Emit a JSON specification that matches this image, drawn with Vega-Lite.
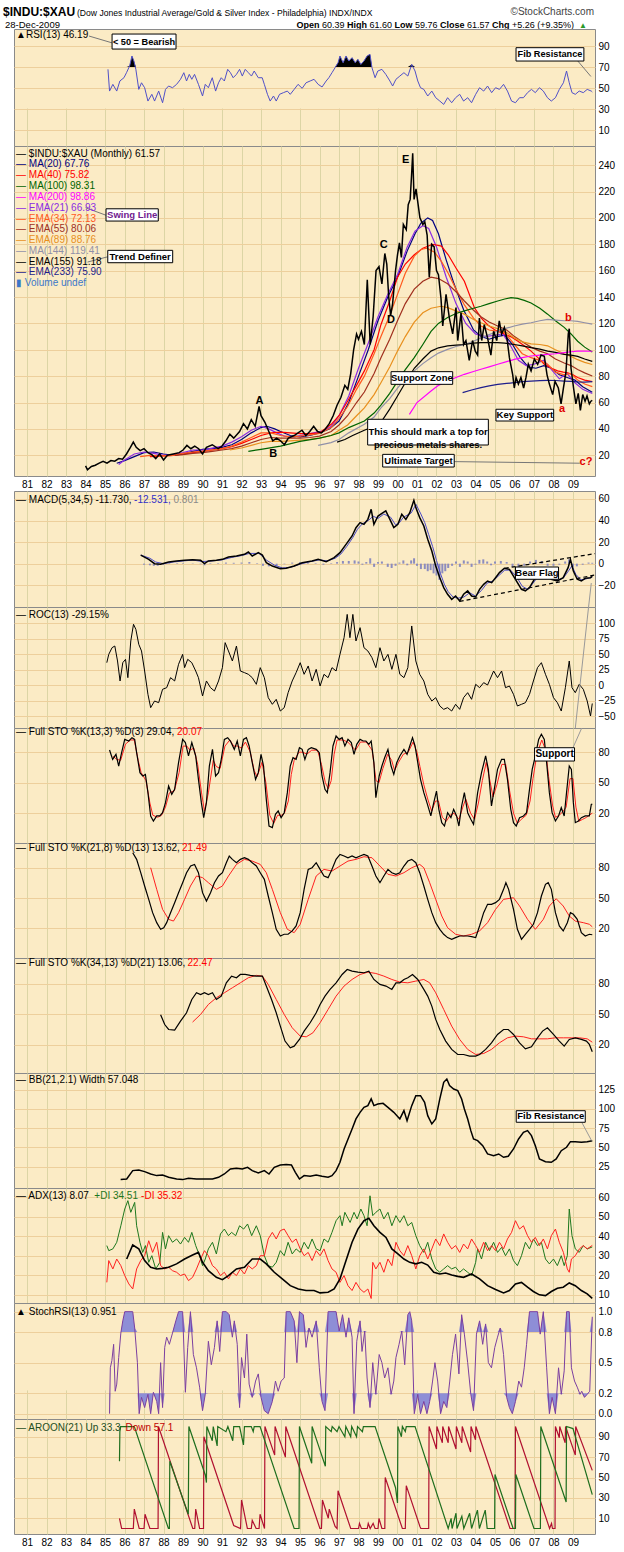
{
"$schema":"https://vega.github.io/schema/vega-lite/v6.json",
"background":"white",
"padding":{"left":2,"top":0,"right":0,"bottom":0},
"spacing":0,
"bounds":"flush",
"config":{
 "view":{"fill":"#FBEBC5","stroke":"#8a8a8a"},
 "axis":{"labelFont":"Liberation Sans","labelFontSize":10,"labelColor":"#000","domain":false,"ticks":false,"gridColor":"#EDCF9C"},
 "text":{"font":"Liberation Sans","fontSize":10,"baseline":"middle","align":"left"}
},
"datasets":{
"price":[{"t":1984.0,"v":12},{"t":1984.1,"v":9},{"t":1984.3,"v":11.5},{"t":1984.5,"v":12.5},{"t":1984.7,"v":14},{"t":1984.9,"v":15.5},{"t":1985.1,"v":14},{"t":1985.3,"v":16},{"t":1985.5,"v":15.5},{"t":1985.7,"v":17.5},{"t":1985.9,"v":17},{"t":1986.1,"v":21},{"t":1986.3,"v":26},{"t":1986.45,"v":30},{"t":1986.6,"v":26},{"t":1986.8,"v":23.5},{"t":1987.0,"v":25},{"t":1987.2,"v":22},{"t":1987.4,"v":20.5},{"t":1987.6,"v":17.5},{"t":1987.8,"v":21},{"t":1988.0,"v":16.5},{"t":1988.2,"v":20},{"t":1988.5,"v":21},{"t":1988.8,"v":22},{"t":1989.0,"v":24},{"t":1989.2,"v":27.5},{"t":1989.4,"v":25},{"t":1989.6,"v":27},{"t":1989.8,"v":25},{"t":1990.0,"v":21},{"t":1990.2,"v":26},{"t":1990.5,"v":28},{"t":1990.8,"v":25},{"t":1991.0,"v":27},{"t":1991.2,"v":31},{"t":1991.4,"v":36},{"t":1991.6,"v":33},{"t":1991.9,"v":38},{"t":1992.1,"v":44},{"t":1992.3,"v":40},{"t":1992.5,"v":47},{"t":1992.7,"v":42},{"t":1992.9,"v":57},{"t":1993.0,"v":50},{"t":1993.2,"v":45},{"t":1993.4,"v":38},{"t":1993.6,"v":31},{"t":1993.8,"v":33},{"t":1994.0,"v":31},{"t":1994.2,"v":28},{"t":1994.4,"v":33},{"t":1994.7,"v":35},{"t":1994.9,"v":37},{"t":1995.1,"v":39},{"t":1995.3,"v":35},{"t":1995.5,"v":38},{"t":1995.7,"v":42},{"t":1995.9,"v":38},{"t":1996.1,"v":37},{"t":1996.3,"v":40},{"t":1996.5,"v":44},{"t":1996.7,"v":50},{"t":1996.9,"v":58},{"t":1997.1,"v":64},{"t":1997.3,"v":73},{"t":1997.45,"v":70},{"t":1997.6,"v":82},{"t":1997.75,"v":100},{"t":1997.9,"v":112},{"t":1998.0,"v":108},{"t":1998.15,"v":114},{"t":1998.3,"v":104},{"t":1998.45,"v":153},{"t":1998.6,"v":104},{"t":1998.75,"v":125},{"t":1998.9,"v":160},{"t":1999.05,"v":163},{"t":1999.2,"v":150},{"t":1999.35,"v":173},{"t":1999.45,"v":165},{"t":1999.55,"v":140},{"t":1999.65,"v":126},{"t":1999.75,"v":135},{"t":1999.9,"v":160},{"t":2000.0,"v":172},{"t":2000.1,"v":181},{"t":2000.2,"v":170},{"t":2000.3,"v":195},{"t":2000.45,"v":191},{"t":2000.55,"v":210},{"t":2000.65,"v":214},{"t":2000.72,"v":232},{"t":2000.78,"v":249},{"t":2000.85,"v":214},{"t":2000.95,"v":222},{"t":2001.05,"v":211},{"t":2001.15,"v":200},{"t":2001.3,"v":195},{"t":2001.4,"v":197},{"t":2001.52,"v":187},{"t":2001.63,"v":155},{"t":2001.75,"v":180},{"t":2001.88,"v":178},{"t":2002.0,"v":160},{"t":2002.1,"v":157},{"t":2002.23,"v":139},{"t":2002.32,"v":118},{"t":2002.49,"v":142},{"t":2002.66,"v":124},{"t":2002.83,"v":112},{"t":2003.0,"v":132},{"t":2003.09,"v":107},{"t":2003.26,"v":128},{"t":2003.39,"v":104},{"t":2003.51,"v":107},{"t":2003.68,"v":92},{"t":2003.85,"v":107},{"t":2003.99,"v":99},{"t":2004.11,"v":96},{"t":2004.2,"v":124},{"t":2004.32,"v":107},{"t":2004.45,"v":119},{"t":2004.62,"v":109},{"t":2004.79,"v":96},{"t":2004.93,"v":114},{"t":2005.09,"v":107},{"t":2005.22,"v":122},{"t":2005.34,"v":112},{"t":2005.48,"v":117},{"t":2005.62,"v":108},{"t":2005.74,"v":94},{"t":2005.91,"v":81},{"t":2005.99,"v":71},{"t":2006.08,"v":79},{"t":2006.2,"v":74},{"t":2006.33,"v":79},{"t":2006.47,"v":71},{"t":2006.59,"v":79},{"t":2006.71,"v":89},{"t":2006.85,"v":84},{"t":2007.02,"v":93},{"t":2007.19,"v":89},{"t":2007.36,"v":96},{"t":2007.53,"v":95},{"t":2007.67,"v":81},{"t":2007.79,"v":74},{"t":2007.96,"v":66},{"t":2008.08,"v":76},{"t":2008.25,"v":71},{"t":2008.39,"v":59},{"t":2008.51,"v":71},{"t":2008.64,"v":83},{"t":2008.76,"v":112},{"t":2008.81,"v":116},{"t":2008.9,"v":86},{"t":2009.03,"v":71},{"t":2009.15,"v":59},{"t":2009.27,"v":67},{"t":2009.38,"v":54},{"t":2009.5,"v":66},{"t":2009.62,"v":61},{"t":2009.72,"v":65},{"t":2009.84,"v":59},{"t":2009.92,"v":61},{"t":2009.99,"v":61.6}],
"ma":[
{"s":"MA(20)","t":1985.6,"v":14},{"s":"MA(20)","t":1986.0,"v":16},{"s":"MA(20)","t":1986.5,"v":19},{"s":"MA(20)","t":1987.0,"v":22},{"s":"MA(20)","t":1987.5,"v":22.5},{"s":"MA(20)","t":1988.0,"v":21},{"s":"MA(20)","t":1988.5,"v":20},{"s":"MA(20)","t":1989.0,"v":21},{"s":"MA(20)","t":1989.5,"v":23},{"s":"MA(20)","t":1990.0,"v":24.5},{"s":"MA(20)","t":1990.5,"v":25},{"s":"MA(20)","t":1991.0,"v":26},{"s":"MA(20)","t":1991.5,"v":28},{"s":"MA(20)","t":1992.0,"v":32},{"s":"MA(20)","t":1992.5,"v":37},{"s":"MA(20)","t":1993.0,"v":41},{"s":"MA(20)","t":1993.3,"v":42},{"s":"MA(20)","t":1993.7,"v":40},{"s":"MA(20)","t":1994.0,"v":38},{"s":"MA(20)","t":1994.5,"v":35},{"s":"MA(20)","t":1995.0,"v":34},{"s":"MA(20)","t":1995.5,"v":35},{"s":"MA(20)","t":1996.0,"v":37},{"s":"MA(20)","t":1996.5,"v":40},{"s":"MA(20)","t":1997.0,"v":46},{"s":"MA(20)","t":1997.5,"v":60},{"s":"MA(20)","t":1998.0,"v":80},{"s":"MA(20)","t":1998.5,"v":100},{"s":"MA(20)","t":1999.0,"v":122},{"s":"MA(20)","t":1999.5,"v":140},{"s":"MA(20)","t":2000.0,"v":155},{"s":"MA(20)","t":2000.5,"v":175},{"s":"MA(20)","t":2000.9,"v":188},{"s":"MA(20)","t":2001.2,"v":196},{"s":"MA(20)","t":2001.55,"v":200},{"s":"MA(20)","t":2001.8,"v":198},{"s":"MA(20)","t":2002.1,"v":188},{"s":"MA(20)","t":2002.5,"v":168},{"s":"MA(20)","t":2002.9,"v":150},{"s":"MA(20)","t":2003.4,"v":130},{"s":"MA(20)","t":2003.9,"v":115},{"s":"MA(20)","t":2004.3,"v":110},{"s":"MA(20)","t":2004.7,"v":108},{"s":"MA(20)","t":2005.1,"v":110},{"s":"MA(20)","t":2005.5,"v":111},{"s":"MA(20)","t":2005.9,"v":104},{"s":"MA(20)","t":2006.3,"v":94},{"s":"MA(20)","t":2006.7,"v":87},{"s":"MA(20)","t":2007.1,"v":86},{"s":"MA(20)","t":2007.5,"v":88},{"s":"MA(20)","t":2007.9,"v":86},{"s":"MA(20)","t":2008.3,"v":81},{"s":"MA(20)","t":2008.7,"v":79},{"s":"MA(20)","t":2009.1,"v":77},{"s":"MA(20)","t":2009.5,"v":72},{"s":"MA(20)","t":2009.99,"v":67.8},
{"s":"EMA(21)","t":1985.7,"v":13},{"s":"EMA(21)","t":1986.0,"v":16.5},{"s":"EMA(21)","t":1986.5,"v":21},{"s":"EMA(21)","t":1987.0,"v":22.5},{"s":"EMA(21)","t":1987.5,"v":21.5},{"s":"EMA(21)","t":1988.0,"v":20},{"s":"EMA(21)","t":1988.5,"v":20.5},{"s":"EMA(21)","t":1989.0,"v":22},{"s":"EMA(21)","t":1989.5,"v":24},{"s":"EMA(21)","t":1990.0,"v":24},{"s":"EMA(21)","t":1990.5,"v":25.5},{"s":"EMA(21)","t":1991.0,"v":27},{"s":"EMA(21)","t":1991.5,"v":30},{"s":"EMA(21)","t":1992.0,"v":34},{"s":"EMA(21)","t":1992.5,"v":39},{"s":"EMA(21)","t":1993.0,"v":42},{"s":"EMA(21)","t":1993.4,"v":40},{"s":"EMA(21)","t":1993.8,"v":37},{"s":"EMA(21)","t":1994.2,"v":34.5},{"s":"EMA(21)","t":1994.7,"v":34},{"s":"EMA(21)","t":1995.2,"v":35.5},{"s":"EMA(21)","t":1995.7,"v":37},{"s":"EMA(21)","t":1996.2,"v":38.5},{"s":"EMA(21)","t":1996.6,"v":42},{"s":"EMA(21)","t":1997.0,"v":50},{"s":"EMA(21)","t":1997.5,"v":65},{"s":"EMA(21)","t":1998.0,"v":86},{"s":"EMA(21)","t":1998.5,"v":105},{"s":"EMA(21)","t":1999.0,"v":125},{"s":"EMA(21)","t":1999.5,"v":142},{"s":"EMA(21)","t":2000.0,"v":157},{"s":"EMA(21)","t":2000.5,"v":178},{"s":"EMA(21)","t":2000.9,"v":190},{"s":"EMA(21)","t":2001.3,"v":194},{"s":"EMA(21)","t":2001.6,"v":192},{"s":"EMA(21)","t":2002.0,"v":178},{"s":"EMA(21)","t":2002.5,"v":155},{"s":"EMA(21)","t":2003.0,"v":135},{"s":"EMA(21)","t":2003.5,"v":120},{"s":"EMA(21)","t":2004.0,"v":112},{"s":"EMA(21)","t":2004.5,"v":110},{"s":"EMA(21)","t":2005.0,"v":111},{"s":"EMA(21)","t":2005.4,"v":112},{"s":"EMA(21)","t":2005.8,"v":103},{"s":"EMA(21)","t":2006.2,"v":92},{"s":"EMA(21)","t":2006.6,"v":88},{"s":"EMA(21)","t":2007.0,"v":89},{"s":"EMA(21)","t":2007.5,"v":92},{"s":"EMA(21)","t":2007.9,"v":85},{"s":"EMA(21)","t":2008.3,"v":78},{"s":"EMA(21)","t":2008.7,"v":82},{"s":"EMA(21)","t":2009.1,"v":75},{"s":"EMA(21)","t":2009.5,"v":70},{"s":"EMA(21)","t":2009.99,"v":66.9},
{"s":"MA(40)","t":1987.3,"v":19},{"s":"MA(40)","t":1988.0,"v":19.5},{"s":"MA(40)","t":1988.5,"v":20},{"s":"MA(40)","t":1989.0,"v":21},{"s":"MA(40)","t":1989.5,"v":22},{"s":"MA(40)","t":1990.0,"v":23},{"s":"MA(40)","t":1990.5,"v":24},{"s":"MA(40)","t":1991.0,"v":25},{"s":"MA(40)","t":1991.5,"v":26.5},{"s":"MA(40)","t":1992.0,"v":29},{"s":"MA(40)","t":1992.5,"v":32},{"s":"MA(40)","t":1993.0,"v":35},{"s":"MA(40)","t":1993.5,"v":37},{"s":"MA(40)","t":1994.0,"v":37.5},{"s":"MA(40)","t":1994.5,"v":37},{"s":"MA(40)","t":1995.0,"v":36.5},{"s":"MA(40)","t":1995.5,"v":36.5},{"s":"MA(40)","t":1996.0,"v":37},{"s":"MA(40)","t":1996.6,"v":43.5},{"s":"MA(40)","t":1997.0,"v":50},{"s":"MA(40)","t":1997.44,"v":61},{"s":"MA(40)","t":1997.9,"v":73},{"s":"MA(40)","t":1998.3,"v":84},{"s":"MA(40)","t":1998.8,"v":100},{"s":"MA(40)","t":1999.15,"v":119},{"s":"MA(40)","t":1999.6,"v":137},{"s":"MA(40)","t":2000.0,"v":155},{"s":"MA(40)","t":2000.4,"v":165},{"s":"MA(40)","t":2000.86,"v":172},{"s":"MA(40)","t":2001.3,"v":177},{"s":"MA(40)","t":2001.8,"v":180},{"s":"MA(40)","t":2002.25,"v":178.6},{"s":"MA(40)","t":2002.6,"v":172},{"s":"MA(40)","t":2003.0,"v":162},{"s":"MA(40)","t":2003.43,"v":152},{"s":"MA(40)","t":2003.94,"v":132},{"s":"MA(40)","t":2004.3,"v":124},{"s":"MA(40)","t":2004.62,"v":119},{"s":"MA(40)","t":2005.0,"v":115},{"s":"MA(40)","t":2005.48,"v":112},{"s":"MA(40)","t":2005.8,"v":110},{"s":"MA(40)","t":2006.16,"v":106.6},{"s":"MA(40)","t":2006.5,"v":103},{"s":"MA(40)","t":2006.85,"v":99},{"s":"MA(40)","t":2007.2,"v":94},{"s":"MA(40)","t":2007.53,"v":89},{"s":"MA(40)","t":2007.9,"v":86},{"s":"MA(40)","t":2008.21,"v":84},{"s":"MA(40)","t":2008.5,"v":83},{"s":"MA(40)","t":2008.73,"v":82.6},{"s":"MA(40)","t":2009.0,"v":81},{"s":"MA(40)","t":2009.24,"v":79},{"s":"MA(40)","t":2009.6,"v":77},{"s":"MA(40)","t":2009.99,"v":75.8},
{"s":"EMA(34)","t":1986.8,"v":19},{"s":"EMA(34)","t":1987.3,"v":20},{"s":"EMA(34)","t":1988.0,"v":19.5},{"s":"EMA(34)","t":1988.5,"v":20},{"s":"EMA(34)","t":1989.0,"v":21.5},{"s":"EMA(34)","t":1989.5,"v":22.5},{"s":"EMA(34)","t":1990.0,"v":23},{"s":"EMA(34)","t":1990.5,"v":24},{"s":"EMA(34)","t":1991.0,"v":25},{"s":"EMA(34)","t":1991.5,"v":27},{"s":"EMA(34)","t":1992.0,"v":30},{"s":"EMA(34)","t":1992.5,"v":33.5},{"s":"EMA(34)","t":1993.0,"v":37},{"s":"EMA(34)","t":1993.5,"v":37},{"s":"EMA(34)","t":1994.0,"v":35},{"s":"EMA(34)","t":1994.5,"v":34},{"s":"EMA(34)","t":1995.0,"v":34.5},{"s":"EMA(34)","t":1995.5,"v":35.5},{"s":"EMA(34)","t":1996.0,"v":36.5},{"s":"EMA(34)","t":1996.6,"v":41},{"s":"EMA(34)","t":1997.0,"v":48},{"s":"EMA(34)","t":1997.44,"v":57},{"s":"EMA(34)","t":1997.9,"v":70},{"s":"EMA(34)","t":1998.3,"v":80},{"s":"EMA(34)","t":1998.8,"v":97},{"s":"EMA(34)","t":1999.15,"v":110},{"s":"EMA(34)","t":1999.6,"v":126},{"s":"EMA(34)","t":2000.0,"v":142},{"s":"EMA(34)","t":2000.4,"v":158},{"s":"EMA(34)","t":2000.86,"v":171},{"s":"EMA(34)","t":2001.2,"v":176},{"s":"EMA(34)","t":2001.5,"v":177},{"s":"EMA(34)","t":2001.9,"v":174},{"s":"EMA(34)","t":2002.25,"v":167},{"s":"EMA(34)","t":2002.6,"v":158},{"s":"EMA(34)","t":2003.0,"v":146},{"s":"EMA(34)","t":2003.43,"v":134},{"s":"EMA(34)","t":2003.9,"v":124},{"s":"EMA(34)","t":2004.28,"v":118},{"s":"EMA(34)","t":2004.7,"v":115},{"s":"EMA(34)","t":2005.14,"v":114},{"s":"EMA(34)","t":2005.5,"v":113},{"s":"EMA(34)","t":2006.0,"v":104},{"s":"EMA(34)","t":2006.4,"v":97},{"s":"EMA(34)","t":2006.85,"v":94},{"s":"EMA(34)","t":2007.3,"v":92},{"s":"EMA(34)","t":2007.7,"v":89},{"s":"EMA(34)","t":2008.1,"v":83},{"s":"EMA(34)","t":2008.55,"v":81},{"s":"EMA(34)","t":2008.9,"v":82},{"s":"EMA(34)","t":2009.24,"v":77},{"s":"EMA(34)","t":2009.6,"v":74},{"s":"EMA(34)","t":2009.99,"v":72.1},
{"s":"EMA(55)","t":1988.6,"v":20},{"s":"EMA(55)","t":1989.0,"v":20.5},{"s":"EMA(55)","t":1989.5,"v":21.5},{"s":"EMA(55)","t":1990.0,"v":22},{"s":"EMA(55)","t":1990.5,"v":23},{"s":"EMA(55)","t":1991.0,"v":24},{"s":"EMA(55)","t":1991.5,"v":25},{"s":"EMA(55)","t":1992.0,"v":27},{"s":"EMA(55)","t":1992.5,"v":29.5},{"s":"EMA(55)","t":1993.0,"v":32},{"s":"EMA(55)","t":1993.5,"v":33.5},{"s":"EMA(55)","t":1994.0,"v":33},{"s":"EMA(55)","t":1995.0,"v":33},{"s":"EMA(55)","t":1995.5,"v":33.5},{"s":"EMA(55)","t":1996.0,"v":34.5},{"s":"EMA(55)","t":1996.6,"v":38},{"s":"EMA(55)","t":1997.0,"v":43},{"s":"EMA(55)","t":1997.44,"v":50},{"s":"EMA(55)","t":1997.9,"v":60},{"s":"EMA(55)","t":1998.3,"v":68},{"s":"EMA(55)","t":1998.8,"v":82},{"s":"EMA(55)","t":1999.15,"v":94},{"s":"EMA(55)","t":1999.6,"v":108},{"s":"EMA(55)","t":2000.0,"v":122},{"s":"EMA(55)","t":2000.4,"v":135},{"s":"EMA(55)","t":2000.86,"v":146},{"s":"EMA(55)","t":2001.3,"v":152},{"s":"EMA(55)","t":2001.72,"v":155},{"s":"EMA(55)","t":2002.1,"v":154},{"s":"EMA(55)","t":2002.57,"v":150},{"s":"EMA(55)","t":2003.0,"v":144},{"s":"EMA(55)","t":2003.43,"v":137},{"s":"EMA(55)","t":2003.9,"v":130},{"s":"EMA(55)","t":2004.28,"v":125},{"s":"EMA(55)","t":2004.7,"v":121},{"s":"EMA(55)","t":2005.14,"v":118},{"s":"EMA(55)","t":2005.6,"v":115},{"s":"EMA(55)","t":2006.0,"v":110},{"s":"EMA(55)","t":2006.4,"v":106},{"s":"EMA(55)","t":2006.85,"v":102},{"s":"EMA(55)","t":2007.3,"v":99},{"s":"EMA(55)","t":2007.7,"v":97},{"s":"EMA(55)","t":2008.1,"v":93},{"s":"EMA(55)","t":2008.55,"v":90},{"s":"EMA(55)","t":2008.9,"v":88},{"s":"EMA(55)","t":2009.24,"v":85},{"s":"EMA(55)","t":2009.6,"v":82.5},{"s":"EMA(55)","t":2009.99,"v":80.1},
{"s":"EMA(89)","t":1991.4,"v":24},{"s":"EMA(89)","t":1992.0,"v":25.5},{"s":"EMA(89)","t":1992.5,"v":27.5},{"s":"EMA(89)","t":1993.0,"v":29.5},{"s":"EMA(89)","t":1993.5,"v":30.5},{"s":"EMA(89)","t":1994.0,"v":30.5},{"s":"EMA(89)","t":1994.5,"v":31},{"s":"EMA(89)","t":1995.0,"v":31.5},{"s":"EMA(89)","t":1995.5,"v":32},{"s":"EMA(89)","t":1996.0,"v":33},{"s":"EMA(89)","t":1996.6,"v":35},{"s":"EMA(89)","t":1997.0,"v":39},{"s":"EMA(89)","t":1997.44,"v":43},{"s":"EMA(89)","t":1997.9,"v":50},{"s":"EMA(89)","t":1998.3,"v":56},{"s":"EMA(89)","t":1998.8,"v":66},{"s":"EMA(89)","t":1999.15,"v":75},{"s":"EMA(89)","t":1999.6,"v":87},{"s":"EMA(89)","t":2000.0,"v":99},{"s":"EMA(89)","t":2000.4,"v":110},{"s":"EMA(89)","t":2000.86,"v":121},{"s":"EMA(89)","t":2001.3,"v":128},{"s":"EMA(89)","t":2001.72,"v":131.5},{"s":"EMA(89)","t":2002.23,"v":133},{"s":"EMA(89)","t":2002.57,"v":132},{"s":"EMA(89)","t":2003.0,"v":129.5},{"s":"EMA(89)","t":2003.43,"v":127},{"s":"EMA(89)","t":2003.9,"v":123},{"s":"EMA(89)","t":2004.28,"v":120.5},{"s":"EMA(89)","t":2004.7,"v":118},{"s":"EMA(89)","t":2005.14,"v":116},{"s":"EMA(89)","t":2005.6,"v":113},{"s":"EMA(89)","t":2005.99,"v":109},{"s":"EMA(89)","t":2006.4,"v":106},{"s":"EMA(89)","t":2006.85,"v":104.5},{"s":"EMA(89)","t":2007.3,"v":104},{"s":"EMA(89)","t":2007.7,"v":103},{"s":"EMA(89)","t":2008.1,"v":100},{"s":"EMA(89)","t":2008.55,"v":97},{"s":"EMA(89)","t":2008.9,"v":95},{"s":"EMA(89)","t":2009.24,"v":92.5},{"s":"EMA(89)","t":2009.6,"v":90.5},{"s":"EMA(89)","t":2009.99,"v":88.8},
{"s":"MA(100)","t":1992.35,"v":23},{"s":"MA(100)","t":1993.0,"v":24.5},{"s":"MA(100)","t":1994.0,"v":27},{"s":"MA(100)","t":1995.0,"v":30.5},{"s":"MA(100)","t":1996.0,"v":33},{"s":"MA(100)","t":1996.59,"v":35},{"s":"MA(100)","t":1997.0,"v":37},{"s":"MA(100)","t":1997.5,"v":41},{"s":"MA(100)","t":1998.3,"v":46},{"s":"MA(100)","t":1998.8,"v":52},{"s":"MA(100)","t":1999.15,"v":58},{"s":"MA(100)","t":1999.6,"v":67},{"s":"MA(100)","t":2000.0,"v":76},{"s":"MA(100)","t":2000.4,"v":85},{"s":"MA(100)","t":2000.86,"v":94},{"s":"MA(100)","t":2001.3,"v":104},{"s":"MA(100)","t":2001.72,"v":114},{"s":"MA(100)","t":2002.1,"v":120},{"s":"MA(100)","t":2002.57,"v":124.5},{"s":"MA(100)","t":2003.0,"v":127.5},{"s":"MA(100)","t":2003.43,"v":129.5},{"s":"MA(100)","t":2003.9,"v":131.5},{"s":"MA(100)","t":2004.28,"v":133},{"s":"MA(100)","t":2004.7,"v":135},{"s":"MA(100)","t":2005.14,"v":137},{"s":"MA(100)","t":2005.5,"v":138.5},{"s":"MA(100)","t":2005.82,"v":139.5},{"s":"MA(100)","t":2006.16,"v":139},{"s":"MA(100)","t":2006.5,"v":137.5},{"s":"MA(100)","t":2006.85,"v":135.5},{"s":"MA(100)","t":2007.3,"v":131.5},{"s":"MA(100)","t":2007.7,"v":127},{"s":"MA(100)","t":2008.1,"v":122},{"s":"MA(100)","t":2008.55,"v":117},{"s":"MA(100)","t":2008.9,"v":112},{"s":"MA(100)","t":2009.24,"v":106.5},{"s":"MA(100)","t":2009.6,"v":102},{"s":"MA(100)","t":2009.99,"v":98.3},
{"s":"MA(144)","t":1995.93,"v":27.5},{"s":"MA(144)","t":1996.59,"v":29.6},{"s":"MA(144)","t":1997.0,"v":32},{"s":"MA(144)","t":1997.5,"v":37},{"s":"MA(144)","t":1998.3,"v":43.5},{"s":"MA(144)","t":1998.8,"v":49},{"s":"MA(144)","t":1999.15,"v":56},{"s":"MA(144)","t":1999.6,"v":63},{"s":"MA(144)","t":2000.0,"v":71},{"s":"MA(144)","t":2000.4,"v":78},{"s":"MA(144)","t":2000.86,"v":84},{"s":"MA(144)","t":2001.3,"v":89.5},{"s":"MA(144)","t":2001.72,"v":94},{"s":"MA(144)","t":2002.1,"v":97.5},{"s":"MA(144)","t":2002.57,"v":100.3},{"s":"MA(144)","t":2003.0,"v":102.5},{"s":"MA(144)","t":2003.43,"v":104},{"s":"MA(144)","t":2003.9,"v":106.5},{"s":"MA(144)","t":2004.28,"v":109},{"s":"MA(144)","t":2004.7,"v":111.5},{"s":"MA(144)","t":2005.14,"v":114},{"s":"MA(144)","t":2005.5,"v":116},{"s":"MA(144)","t":2005.99,"v":118},{"s":"MA(144)","t":2006.4,"v":119.5},{"s":"MA(144)","t":2006.85,"v":120.5},{"s":"MA(144)","t":2007.3,"v":122},{"s":"MA(144)","t":2007.7,"v":123},{"s":"MA(144)","t":2008.1,"v":122.5},{"s":"MA(144)","t":2008.55,"v":122},{"s":"MA(144)","t":2008.9,"v":122},{"s":"MA(144)","t":2009.24,"v":121.5},{"s":"MA(144)","t":2009.6,"v":120.5},{"s":"MA(144)","t":2009.99,"v":119.4},
{"s":"EMA(155)","t":1996.9,"v":30},{"s":"EMA(155)","t":1997.3,"v":32},{"s":"EMA(155)","t":1997.7,"v":35},{"s":"EMA(155)","t":1998.3,"v":39},{"s":"EMA(155)","t":1998.8,"v":42},{"s":"EMA(155)","t":1999.15,"v":45},{"s":"EMA(155)","t":1999.6,"v":55},{"s":"EMA(155)","t":2000.0,"v":65},{"s":"EMA(155)","t":2000.4,"v":75},{"s":"EMA(155)","t":2000.86,"v":86},{"s":"EMA(155)","t":2001.3,"v":93},{"s":"EMA(155)","t":2001.72,"v":99},{"s":"EMA(155)","t":2002.1,"v":101.5},{"s":"EMA(155)","t":2002.57,"v":103},{"s":"EMA(155)","t":2003.0,"v":103.5},{"s":"EMA(155)","t":2003.43,"v":104},{"s":"EMA(155)","t":2003.9,"v":105},{"s":"EMA(155)","t":2004.28,"v":105.4},{"s":"EMA(155)","t":2004.7,"v":105.5},{"s":"EMA(155)","t":2005.14,"v":105.4},{"s":"EMA(155)","t":2005.5,"v":105},{"s":"EMA(155)","t":2005.99,"v":104},{"s":"EMA(155)","t":2006.4,"v":103},{"s":"EMA(155)","t":2006.85,"v":101.6},{"s":"EMA(155)","t":2007.3,"v":100.5},{"s":"EMA(155)","t":2007.7,"v":99},{"s":"EMA(155)","t":2008.1,"v":98},{"s":"EMA(155)","t":2008.55,"v":96.5},{"s":"EMA(155)","t":2008.9,"v":96},{"s":"EMA(155)","t":2009.24,"v":95},{"s":"EMA(155)","t":2009.6,"v":93},{"s":"EMA(155)","t":2009.99,"v":91.2},
{"s":"MA(200)","t":2000.61,"v":51},{"s":"MA(200)","t":2001.0,"v":60},{"s":"MA(200)","t":2001.72,"v":68.7},{"s":"MA(200)","t":2002.1,"v":73},{"s":"MA(200)","t":2002.57,"v":76.3},{"s":"MA(200)","t":2003.0,"v":79},{"s":"MA(200)","t":2003.43,"v":81.4},{"s":"MA(200)","t":2003.9,"v":83.5},{"s":"MA(200)","t":2004.28,"v":85.2},{"s":"MA(200)","t":2004.7,"v":87},{"s":"MA(200)","t":2005.14,"v":89},{"s":"MA(200)","t":2005.6,"v":91},{"s":"MA(200)","t":2005.99,"v":92.7},{"s":"MA(200)","t":2006.4,"v":94},{"s":"MA(200)","t":2006.85,"v":95.3},{"s":"MA(200)","t":2007.3,"v":96},{"s":"MA(200)","t":2007.7,"v":96.5},{"s":"MA(200)","t":2008.1,"v":97},{"s":"MA(200)","t":2008.55,"v":97.8},{"s":"MA(200)","t":2008.9,"v":98.5},{"s":"MA(200)","t":2009.24,"v":99},{"s":"MA(200)","t":2009.6,"v":99},{"s":"MA(200)","t":2009.99,"v":98.9},
{"s":"EMA(233)","t":2003.34,"v":67.5},{"s":"EMA(233)","t":2003.8,"v":69.5},{"s":"EMA(233)","t":2004.28,"v":71.3},{"s":"EMA(233)","t":2004.7,"v":72.6},{"s":"EMA(233)","t":2005.14,"v":73.8},{"s":"EMA(233)","t":2005.6,"v":74.5},{"s":"EMA(233)","t":2005.99,"v":75.1},{"s":"EMA(233)","t":2006.4,"v":75.8},{"s":"EMA(233)","t":2006.85,"v":76.3},{"s":"EMA(233)","t":2007.3,"v":76.6},{"s":"EMA(233)","t":2007.7,"v":76.8},{"s":"EMA(233)","t":2008.1,"v":76.7},{"s":"EMA(233)","t":2008.55,"v":76.3},{"s":"EMA(233)","t":2008.9,"v":76},{"s":"EMA(233)","t":2009.24,"v":75.6},{"s":"EMA(233)","t":2009.6,"v":75.5},{"s":"EMA(233)","t":2009.99,"v":75.9}],
"rsi":[{"t":1985.15,"v":67.8},{"t":1985.23,"v":47.1},{"t":1985.4,"v":53.5},{"t":1985.6,"v":47.1},{"t":1985.76,"v":56.7},{"t":1985.97,"v":59.8},{"t":1986.1,"v":64.6},{"t":1986.26,"v":71},{"t":1986.38,"v":80.5},{"t":1986.48,"v":75.7},{"t":1986.58,"v":67.8},{"t":1986.73,"v":48.7},{"t":1986.87,"v":55},{"t":1987.03,"v":50.3},{"t":1987.2,"v":37.6},{"t":1987.4,"v":44},{"t":1987.54,"v":37.6},{"t":1987.75,"v":47.1},{"t":1987.95,"v":36},{"t":1988.1,"v":48.7},{"t":1988.26,"v":51.9},{"t":1988.46,"v":50.3},{"t":1988.67,"v":53.5},{"t":1988.87,"v":58.3},{"t":1989.04,"v":64.6},{"t":1989.18,"v":56.7},{"t":1989.32,"v":63},{"t":1989.45,"v":58.3},{"t":1989.59,"v":63},{"t":1989.79,"v":53.5},{"t":1990.0,"v":42.4},{"t":1990.14,"v":53.5},{"t":1990.3,"v":50.3},{"t":1990.5,"v":59.8},{"t":1990.67,"v":47.1},{"t":1990.82,"v":55},{"t":1990.96,"v":59.8},{"t":1991.12,"v":56.7},{"t":1991.29,"v":67.8},{"t":1991.43,"v":64.6},{"t":1991.57,"v":59.8},{"t":1991.74,"v":63},{"t":1991.9,"v":67.8},{"t":1992.04,"v":61.4},{"t":1992.19,"v":67.8},{"t":1992.35,"v":64.6},{"t":1992.51,"v":61.4},{"t":1992.65,"v":66.2},{"t":1992.86,"v":59.8},{"t":1993.06,"v":59.8},{"t":1993.17,"v":53.5},{"t":1993.33,"v":44},{"t":1993.47,"v":37.6},{"t":1993.64,"v":42.4},{"t":1993.78,"v":37.6},{"t":1993.95,"v":44},{"t":1994.15,"v":45.6},{"t":1994.35,"v":47.1},{"t":1994.5,"v":44},{"t":1994.7,"v":48.7},{"t":1994.9,"v":53.5},{"t":1995.11,"v":49.7},{"t":1995.31,"v":55},{"t":1995.52,"v":56.7},{"t":1995.72,"v":58.3},{"t":1995.93,"v":53.5},{"t":1996.13,"v":51},{"t":1996.34,"v":56.7},{"t":1996.48,"v":59.8},{"t":1996.64,"v":64.6},{"t":1996.8,"v":69.4},{"t":1996.95,"v":74.1},{"t":1997.05,"v":80.5},{"t":1997.21,"v":74.1},{"t":1997.36,"v":80.5},{"t":1997.5,"v":75.7},{"t":1997.67,"v":78.9},{"t":1997.83,"v":74.1},{"t":1997.97,"v":77.3},{"t":1998.12,"v":72.5},{"t":1998.28,"v":75.7},{"t":1998.44,"v":80.5},{"t":1998.59,"v":82.1},{"t":1998.69,"v":69.4},{"t":1998.85,"v":59.8},{"t":1998.99,"v":66.2},{"t":1999.2,"v":67.8},{"t":1999.4,"v":63},{"t":1999.61,"v":56.7},{"t":1999.75,"v":51.9},{"t":1999.92,"v":58.3},{"t":2000.12,"v":61.4},{"t":2000.33,"v":64.6},{"t":2000.53,"v":61.4},{"t":2000.73,"v":72.5},{"t":2000.9,"v":66.2},{"t":2001.04,"v":56.7},{"t":2001.18,"v":50.3},{"t":2001.35,"v":48.7},{"t":2001.55,"v":42.4},{"t":2001.76,"v":47.1},{"t":2001.96,"v":40.8},{"t":2002.17,"v":37.6},{"t":2002.37,"v":34.4},{"t":2002.57,"v":40.8},{"t":2002.78,"v":36},{"t":2002.98,"v":40.8},{"t":2003.19,"v":44},{"t":2003.39,"v":37.6},{"t":2003.6,"v":40.8},{"t":2003.8,"v":36},{"t":2004.01,"v":44},{"t":2004.21,"v":50.3},{"t":2004.42,"v":47.1},{"t":2004.62,"v":51.9},{"t":2004.83,"v":45.6},{"t":2005.03,"v":50.3},{"t":2005.23,"v":48.7},{"t":2005.44,"v":53.5},{"t":2005.64,"v":47.1},{"t":2005.85,"v":37.6},{"t":2006.05,"v":36},{"t":2006.26,"v":40.8},{"t":2006.46,"v":40.8},{"t":2006.67,"v":45.6},{"t":2006.87,"v":48.7},{"t":2007.07,"v":45.6},{"t":2007.28,"v":50.3},{"t":2007.48,"v":47.1},{"t":2007.69,"v":40.8},{"t":2007.89,"v":37.6},{"t":2008.1,"v":40.8},{"t":2008.3,"v":48.7},{"t":2008.51,"v":55},{"t":2008.67,"v":66.2},{"t":2008.81,"v":55},{"t":2008.95,"v":45.6},{"t":2009.12,"v":44},{"t":2009.32,"v":47.1},{"t":2009.53,"v":45.6},{"t":2009.73,"v":48.7},{"t":2009.94,"v":47.1},{"t":2009.99,"v":46.2}],
"macd":[{"t":1986.83,"v":8},{"t":1987.24,"v":4},{"t":1987.54,"v":0},{"t":1987.85,"v":-0.6},{"t":1988.26,"v":1.6},{"t":1988.67,"v":2.5},{"t":1989.08,"v":3.1},{"t":1989.49,"v":3.7},{"t":1989.9,"v":3.1},{"t":1990.1,"v":0},{"t":1990.3,"v":2.5},{"t":1990.71,"v":3.1},{"t":1991.02,"v":4},{"t":1991.33,"v":6.2},{"t":1991.74,"v":7.1},{"t":1992.15,"v":8.7},{"t":1992.35,"v":10.8},{"t":1992.55,"v":7.1},{"t":1992.86,"v":10.2},{"t":1993.07,"v":8},{"t":1993.27,"v":0.9},{"t":1993.58,"v":-2.2},{"t":1993.99,"v":-4.6},{"t":1994.29,"v":-4.3},{"t":1994.7,"v":-2.2},{"t":1995.11,"v":0.9},{"t":1995.62,"v":2.5},{"t":1995.93,"v":4},{"t":1996.34,"v":1.9},{"t":1996.75,"v":5.6},{"t":1997.05,"v":10.2},{"t":1997.36,"v":17.9},{"t":1997.67,"v":25.7},{"t":1997.87,"v":33.4},{"t":1998.08,"v":38.1},{"t":1998.28,"v":36.5},{"t":1998.48,"v":41.1},{"t":1998.65,"v":50.4},{"t":1998.79,"v":36.5},{"t":1999.0,"v":44.2},{"t":1999.26,"v":47.3},{"t":1999.4,"v":48.9},{"t":1999.61,"v":41.1},{"t":1999.81,"v":33.4},{"t":2000.02,"v":36.5},{"t":2000.22,"v":45.8},{"t":2000.43,"v":41.1},{"t":2000.63,"v":47.3},{"t":2000.84,"v":58.8},{"t":2000.94,"v":52},{"t":2001.14,"v":42.7},{"t":2001.35,"v":35},{"t":2001.55,"v":22.6},{"t":2001.76,"v":11.8},{"t":2001.96,"v":-2.2},{"t":2002.17,"v":-13},{"t":2002.37,"v":-22.2},{"t":2002.57,"v":-28.4},{"t":2002.78,"v":-33.1},{"t":2002.98,"v":-30},{"t":2003.19,"v":-34.6},{"t":2003.39,"v":-28.4},{"t":2003.6,"v":-25.3},{"t":2003.8,"v":-30},{"t":2004.01,"v":-30.9},{"t":2004.21,"v":-23.8},{"t":2004.42,"v":-19.2},{"t":2004.62,"v":-16.1},{"t":2004.83,"v":-17.6},{"t":2005.03,"v":-13},{"t":2005.23,"v":-8.3},{"t":2005.48,"v":-4.3},{"t":2005.74,"v":-5.3},{"t":2006.05,"v":-14.5},{"t":2006.36,"v":-23.8},{"t":2006.56,"v":-25.3},{"t":2006.77,"v":-22.2},{"t":2007.07,"v":-13},{"t":2007.28,"v":-8.3},{"t":2007.48,"v":-5.3},{"t":2007.69,"v":-9.9},{"t":2007.89,"v":-14.5},{"t":2008.2,"v":-16.1},{"t":2008.5,"v":-13},{"t":2008.75,"v":-3.7},{"t":2008.87,"v":4},{"t":2009.02,"v":-6.8},{"t":2009.22,"v":-14.5},{"t":2009.43,"v":-16.1},{"t":2009.63,"v":-13.6},{"t":2009.9,"v":-13},{"t":2009.99,"v":-11.7}],
"macdsig":[{"t":1986.83,"v":8},{"t":1987.3,"v":5},{"t":1987.6,"v":1.5},{"t":1988.0,"v":0},{"t":1988.5,"v":1.5},{"t":1989.0,"v":2.5},{"t":1989.5,"v":3.3},{"t":1990.0,"v":2},{"t":1990.5,"v":2.5},{"t":1991.0,"v":3.5},{"t":1991.5,"v":5.8},{"t":1992.0,"v":7.5},{"t":1992.4,"v":9.5},{"t":1992.9,"v":9.5},{"t":1993.3,"v":3},{"t":1993.7,"v":-1.5},{"t":1994.1,"v":-4},{"t":1994.5,"v":-3.5},{"t":1995.0,"v":-0.5},{"t":1995.5,"v":1.8},{"t":1996.0,"v":3.5},{"t":1996.4,"v":2.5},{"t":1996.8,"v":5},{"t":1997.1,"v":9},{"t":1997.4,"v":16},{"t":1997.7,"v":24},{"t":1997.95,"v":32},{"t":1998.2,"v":37},{"t":1998.5,"v":40},{"t":1998.75,"v":44},{"t":1999.0,"v":42},{"t":1999.3,"v":46},{"t":1999.65,"v":43},{"t":1999.9,"v":36},{"t":2000.1,"v":38},{"t":2000.3,"v":43},{"t":2000.7,"v":47},{"t":2000.95,"v":55},{"t":2001.2,"v":46},{"t":2001.4,"v":38},{"t":2001.6,"v":27},{"t":2001.8,"v":16},{"t":2002.0,"v":3},{"t":2002.2,"v":-9},{"t":2002.4,"v":-19},{"t":2002.6,"v":-26},{"t":2002.85,"v":-31},{"t":2003.1,"v":-32},{"t":2003.4,"v":-31},{"t":2003.7,"v":-27},{"t":2004.0,"v":-30},{"t":2004.3,"v":-25},{"t":2004.6,"v":-18},{"t":2004.9,"v":-16},{"t":2005.2,"v":-11},{"t":2005.5,"v":-6},{"t":2005.8,"v":-6},{"t":2006.1,"v":-12},{"t":2006.4,"v":-21},{"t":2006.7,"v":-24},{"t":2007.0,"v":-17},{"t":2007.3,"v":-10},{"t":2007.6,"v":-7},{"t":2007.9,"v":-12},{"t":2008.2,"v":-15},{"t":2008.5,"v":-13.5},{"t":2008.8,"v":-6},{"t":2008.95,"v":-2},{"t":2009.15,"v":-10},{"t":2009.4,"v":-15},{"t":2009.7,"v":-14},{"t":2009.99,"v":-12.5}],
"hist":[{"t":1987.0,"v":-1},{"t":1987.3,"v":-1.5},{"t":1987.5,"v":-2},{"t":1987.7,"v":-2},{"t":1988.0,"v":-1},{"t":1988.3,"v":0.5},{"t":1988.7,"v":0.5},{"t":1989.0,"v":0.5},{"t":1989.5,"v":0.3},{"t":1989.9,"v":-0.5},{"t":1990.1,"v":-1.5},{"t":1990.4,"v":0.5},{"t":1990.8,"v":0.5},{"t":1991.2,"v":1},{"t":1991.6,"v":0.8},{"t":1992.0,"v":1},{"t":1992.4,"v":1.5},{"t":1992.8,"v":0.5},{"t":1993.1,"v":-2},{"t":1993.4,"v":-2.5},{"t":1993.8,"v":-2},{"t":1994.2,"v":-0.5},{"t":1994.6,"v":1},{"t":1995.0,"v":1.5},{"t":1995.4,"v":0.8},{"t":1995.8,"v":0.5},{"t":1996.2,"v":-1},{"t":1996.6,"v":0.5},{"t":1996.9,"v":1.5},{"t":1997.2,"v":2.5},{"t":1997.5,"v":2.5},{"t":1997.8,"v":3},{"t":1998.0,"v":2},{"t":1998.2,"v":-1},{"t":1998.4,"v":1.5},{"t":1998.6,"v":5},{"t":1998.8,"v":-3},{"t":1999.0,"v":1.5},{"t":1999.2,"v":2},{"t":1999.5,"v":-3},{"t":1999.7,"v":-4},{"t":1999.9,"v":-2},{"t":2000.1,"v":1},{"t":2000.3,"v":3},{"t":2000.5,"v":-1.5},{"t":2000.7,"v":3},{"t":2000.85,"v":5},{"t":2001.0,"v":-2},{"t":2001.2,"v":-5},{"t":2001.4,"v":-5},{"t":2001.55,"v":-7},{"t":2001.7,"v":-6},{"t":2001.85,"v":-9},{"t":2002.0,"v":-11},{"t":2002.15,"v":-15},{"t":2002.3,"v":-9},{"t":2002.45,"v":-7},{"t":2002.6,"v":-4},{"t":2002.8,"v":-2},{"t":2003.0,"v":2},{"t":2003.2,"v":-3},{"t":2003.4,"v":3},{"t":2003.6,"v":2},{"t":2003.8,"v":-3},{"t":2004.0,"v":-1},{"t":2004.2,"v":3.5},{"t":2004.4,"v":4},{"t":2004.6,"v":2},{"t":2004.8,"v":-1.5},{"t":2005.0,"v":2},{"t":2005.3,"v":2.5},{"t":2005.6,"v":1.5},{"t":2005.9,"v":-3},{"t":2006.2,"v":-3},{"t":2006.5,"v":-2},{"t":2006.8,"v":2},{"t":2007.1,"v":3.5},{"t":2007.4,"v":2.5},{"t":2007.7,"v":-2},{"t":2008.0,"v":-2},{"t":2008.3,"v":-1},{"t":2008.6,"v":2},{"t":2008.8,"v":4},{"t":2009.0,"v":-3},{"t":2009.2,"v":-2.5},{"t":2009.5,"v":-1},{"t":2009.8,"v":1},{"t":2009.99,"v":0.8}],
"roc":[{"t":1985.09,"v":36.4},{"t":1985.19,"v":49.8},{"t":1985.36,"v":60.5},{"t":1985.5,"v":63.2},{"t":1985.64,"v":39.1},{"t":1985.77,"v":7},{"t":1985.91,"v":36.4},{"t":1986.05,"v":41.8},{"t":1986.17,"v":12.3},{"t":1986.32,"v":71.3},{"t":1986.46,"v":98.1},{"t":1986.58,"v":90},{"t":1986.73,"v":65.9},{"t":1986.87,"v":55.2},{"t":1987.03,"v":23},{"t":1987.2,"v":-14.5},{"t":1987.34,"v":-35.9},{"t":1987.54,"v":-25.2},{"t":1987.75,"v":-27.9},{"t":1987.95,"v":-6.4},{"t":1988.16,"v":-3.8},{"t":1988.36,"v":12.3},{"t":1988.57,"v":7},{"t":1988.77,"v":33.8},{"t":1988.98,"v":49.8},{"t":1989.08,"v":28.4},{"t":1989.24,"v":41.8},{"t":1989.45,"v":36.4},{"t":1989.65,"v":23},{"t":1989.79,"v":12.3},{"t":1990.0,"v":-17.1},{"t":1990.2,"v":7},{"t":1990.41,"v":-3.8},{"t":1990.61,"v":-9.1},{"t":1990.82,"v":7},{"t":1991.02,"v":28.4},{"t":1991.16,"v":68.6},{"t":1991.33,"v":55.2},{"t":1991.53,"v":39.1},{"t":1991.74,"v":63.2},{"t":1991.94,"v":23},{"t":1992.15,"v":20.4},{"t":1992.35,"v":17.7},{"t":1992.55,"v":12.3},{"t":1992.76,"v":1.6},{"t":1992.96,"v":28.4},{"t":1993.17,"v":12.3},{"t":1993.37,"v":-19.8},{"t":1993.58,"v":-30.5},{"t":1993.78,"v":-22.5},{"t":1993.99,"v":-41.3},{"t":1994.19,"v":-35.9},{"t":1994.39,"v":-11.8},{"t":1994.6,"v":7},{"t":1994.8,"v":20.4},{"t":1995.01,"v":36.4},{"t":1995.21,"v":17.7},{"t":1995.42,"v":31.1},{"t":1995.62,"v":7},{"t":1995.83,"v":25.7},{"t":1996.03,"v":-1.1},{"t":1996.23,"v":17.7},{"t":1996.44,"v":12.3},{"t":1996.64,"v":28.4},{"t":1996.85,"v":23},{"t":1997.05,"v":49.8},{"t":1997.26,"v":76.6},{"t":1997.42,"v":114},{"t":1997.56,"v":76.6},{"t":1997.71,"v":114},{"t":1997.87,"v":71.3},{"t":1998.08,"v":92.7},{"t":1998.28,"v":60.5},{"t":1998.48,"v":55.2},{"t":1998.69,"v":44.5},{"t":1998.89,"v":28.4},{"t":1999.1,"v":60.5},{"t":1999.3,"v":39.1},{"t":1999.51,"v":49.8},{"t":1999.71,"v":25.7},{"t":1999.92,"v":49.8},{"t":2000.12,"v":17.7},{"t":2000.33,"v":12.3},{"t":2000.53,"v":28.4},{"t":2000.73,"v":95.4},{"t":2000.94,"v":39.1},{"t":2001.14,"v":17.7},{"t":2001.35,"v":7},{"t":2001.55,"v":-14.5},{"t":2001.76,"v":-25.2},{"t":2001.96,"v":-19.8},{"t":2002.17,"v":-33.2},{"t":2002.37,"v":-38.6},{"t":2002.57,"v":-35.9},{"t":2002.78,"v":-41.3},{"t":2002.98,"v":-30.5},{"t":2003.19,"v":-38.6},{"t":2003.39,"v":-19.8},{"t":2003.6,"v":-11.8},{"t":2003.8,"v":-22.5},{"t":2004.01,"v":1.6},{"t":2004.21,"v":-3.8},{"t":2004.42,"v":4.3},{"t":2004.62,"v":0.5},{"t":2004.93,"v":23},{"t":2005.13,"v":12.3},{"t":2005.34,"v":23},{"t":2005.54,"v":-3.8},{"t":2005.74,"v":-1.1},{"t":2005.95,"v":-14.5},{"t":2006.15,"v":-33.2},{"t":2006.36,"v":-30.5},{"t":2006.56,"v":-27.9},{"t":2006.77,"v":-14.5},{"t":2006.97,"v":7},{"t":2007.18,"v":28.4},{"t":2007.38,"v":36.4},{"t":2007.59,"v":17.7},{"t":2007.79,"v":1.6},{"t":2008.0,"v":-19.8},{"t":2008.2,"v":-27.9},{"t":2008.4,"v":-41.3},{"t":2008.61,"v":-3.8},{"t":2008.81,"v":39.1},{"t":2008.95,"v":-3.8},{"t":2009.12,"v":-11.8},{"t":2009.32,"v":1.6},{"t":2009.53,"v":-6.4},{"t":2009.73,"v":-25.2},{"t":2009.9,"v":-49.3},{"t":2009.99,"v":-29.2}],
"k13":[{"t":1985.23,"v":82.2},{"t":1985.39,"v":73},{"t":1985.56,"v":77.9},{"t":1985.7,"v":66.4},{"t":1985.85,"v":79.5},{"t":1986.01,"v":92.6},{"t":1986.22,"v":91},{"t":1986.38,"v":94.3},{"t":1986.52,"v":92.6},{"t":1986.62,"v":79.5},{"t":1986.79,"v":59.9},{"t":1986.93,"v":56.6},{"t":1987.07,"v":58.2},{"t":1987.2,"v":40.2},{"t":1987.34,"v":17.3},{"t":1987.48,"v":12.3},{"t":1987.65,"v":17.3},{"t":1987.81,"v":17.3},{"t":1987.95,"v":20.5},{"t":1988.1,"v":30.4},{"t":1988.26,"v":46.7},{"t":1988.42,"v":38.6},{"t":1988.57,"v":43.5},{"t":1988.77,"v":69.7},{"t":1988.98,"v":92.6},{"t":1989.12,"v":89.4},{"t":1989.28,"v":76.3},{"t":1989.45,"v":89.4},{"t":1989.65,"v":76.3},{"t":1989.79,"v":53.3},{"t":1989.94,"v":30.4},{"t":1990.06,"v":15.6},{"t":1990.2,"v":30.4},{"t":1990.35,"v":66.4},{"t":1990.51,"v":82.8},{"t":1990.67,"v":56.6},{"t":1990.82,"v":59.9},{"t":1990.96,"v":73},{"t":1991.12,"v":92.6},{"t":1991.29,"v":94.3},{"t":1991.43,"v":91},{"t":1991.63,"v":82.8},{"t":1991.78,"v":91},{"t":1991.94,"v":76.3},{"t":1992.1,"v":92.6},{"t":1992.25,"v":94.3},{"t":1992.39,"v":86.1},{"t":1992.55,"v":69.7},{"t":1992.72,"v":53.3},{"t":1992.86,"v":59.9},{"t":1993.0,"v":77.9},{"t":1993.13,"v":66.4},{"t":1993.27,"v":33.6},{"t":1993.41,"v":7.4},{"t":1993.58,"v":5.8},{"t":1993.74,"v":18.9},{"t":1993.88,"v":22.2},{"t":1994.03,"v":15.6},{"t":1994.19,"v":20.5},{"t":1994.35,"v":40.2},{"t":1994.5,"v":66.4},{"t":1994.64,"v":74.6},{"t":1994.8,"v":73},{"t":1994.97,"v":84.4},{"t":1995.11,"v":82.8},{"t":1995.25,"v":73},{"t":1995.42,"v":82.8},{"t":1995.58,"v":84.4},{"t":1995.83,"v":82.8},{"t":1995.99,"v":79.5},{"t":1996.13,"v":56.6},{"t":1996.28,"v":43.5},{"t":1996.4,"v":40.2},{"t":1996.54,"v":59.9},{"t":1996.69,"v":86.1},{"t":1996.85,"v":95.9},{"t":1997.01,"v":92.6},{"t":1997.16,"v":94.3},{"t":1997.3,"v":86.1},{"t":1997.46,"v":92.6},{"t":1997.63,"v":89.4},{"t":1997.77,"v":77.9},{"t":1997.91,"v":87.7},{"t":1998.08,"v":92.6},{"t":1998.24,"v":91},{"t":1998.38,"v":91},{"t":1998.53,"v":87.7},{"t":1998.65,"v":91},{"t":1998.79,"v":69.7},{"t":1998.89,"v":35.3},{"t":1999.06,"v":56.6},{"t":1999.2,"v":66.4},{"t":1999.34,"v":74.6},{"t":1999.51,"v":82.8},{"t":1999.67,"v":66.4},{"t":1999.81,"v":58.2},{"t":1999.96,"v":69.7},{"t":2000.12,"v":76.3},{"t":2000.33,"v":82.8},{"t":2000.49,"v":77.9},{"t":2000.63,"v":86.1},{"t":2000.77,"v":94.3},{"t":2000.9,"v":86.1},{"t":2001.04,"v":69.7},{"t":2001.18,"v":53.3},{"t":2001.35,"v":40.2},{"t":2001.51,"v":30.4},{"t":2001.71,"v":17.3},{"t":2001.86,"v":30.4},{"t":2002.0,"v":41.8},{"t":2002.12,"v":23.8},{"t":2002.27,"v":10.7},{"t":2002.41,"v":7.4},{"t":2002.57,"v":20.5},{"t":2002.74,"v":15.6},{"t":2002.88,"v":23.8},{"t":2003.03,"v":17.3},{"t":2003.15,"v":7.4},{"t":2003.29,"v":27.1},{"t":2003.43,"v":40.2},{"t":2003.6,"v":20.5},{"t":2003.76,"v":14},{"t":2003.9,"v":9.1},{"t":2004.11,"v":40.2},{"t":2004.31,"v":59.9},{"t":2004.52,"v":76.3},{"t":2004.66,"v":63.1},{"t":2004.82,"v":27.1},{"t":2004.99,"v":46.7},{"t":2005.13,"v":63.1},{"t":2005.34,"v":73},{"t":2005.48,"v":73},{"t":2005.64,"v":53.3},{"t":2005.81,"v":23.8},{"t":2005.95,"v":10.7},{"t":2006.09,"v":7.4},{"t":2006.26,"v":15.6},{"t":2006.46,"v":17.3},{"t":2006.62,"v":20.5},{"t":2006.77,"v":43.5},{"t":2006.91,"v":63.1},{"t":2007.07,"v":76.3},{"t":2007.24,"v":92.6},{"t":2007.38,"v":97.6},{"t":2007.53,"v":92.6},{"t":2007.65,"v":69.7},{"t":2007.79,"v":40.2},{"t":2007.93,"v":20.5},{"t":2008.1,"v":12.3},{"t":2008.26,"v":17.3},{"t":2008.4,"v":25.4},{"t":2008.55,"v":17.3},{"t":2008.67,"v":40.2},{"t":2008.81,"v":66.4},{"t":2008.92,"v":63.1},{"t":2009.02,"v":30.4},{"t":2009.12,"v":10.7},{"t":2009.28,"v":12.3},{"t":2009.43,"v":15.6},{"t":2009.63,"v":17.3},{"t":2009.84,"v":17.3},{"t":2009.94,"v":28.7},{"t":2009.99,"v":29}],
"d13":[{"t":1985.4,"v":76},{"t":1985.6,"v":73},{"t":1985.8,"v":72},{"t":1986.05,"v":88},{"t":1986.3,"v":92},{"t":1986.5,"v":92},{"t":1986.7,"v":72},{"t":1986.85,"v":60},{"t":1987.1,"v":52},{"t":1987.3,"v":30},{"t":1987.45,"v":18},{"t":1987.7,"v":16},{"t":1987.9,"v":18},{"t":1988.1,"v":26},{"t":1988.3,"v":40},{"t":1988.55,"v":42},{"t":1988.8,"v":60},{"t":1989.0,"v":86},{"t":1989.2,"v":86},{"t":1989.35,"v":82},{"t":1989.55,"v":84},{"t":1989.75,"v":68},{"t":1989.95,"v":40},{"t":1990.1,"v":22},{"t":1990.3,"v":40},{"t":1990.55,"v":72},{"t":1990.7,"v":66},{"t":1990.9,"v":64},{"t":1991.15,"v":86},{"t":1991.4,"v":92},{"t":1991.6,"v":86},{"t":1991.8,"v":86},{"t":1992.0,"v":84},{"t":1992.2,"v":90},{"t":1992.45,"v":80},{"t":1992.65,"v":62},{"t":1992.8,"v":56},{"t":1993.05,"v":70},{"t":1993.25,"v":50},{"t":1993.45,"v":18},{"t":1993.65,"v":10},{"t":1993.85,"v":18},{"t":1994.05,"v":18},{"t":1994.2,"v":20},{"t":1994.4,"v":32},{"t":1994.55,"v":58},{"t":1994.7,"v":72},{"t":1994.95,"v":80},{"t":1995.15,"v":80},{"t":1995.35,"v":78},{"t":1995.6,"v":82},{"t":1995.9,"v":82},{"t":1996.1,"v":68},{"t":1996.3,"v":50},{"t":1996.45,"v":44},{"t":1996.6,"v":52},{"t":1996.75,"v":78},{"t":1996.9,"v":92},{"t":1997.2,"v":92},{"t":1997.45,"v":90},{"t":1997.65,"v":86},{"t":1997.85,"v":82},{"t":1998.1,"v":90},{"t":1998.4,"v":90},{"t":1998.7,"v":82},{"t":1998.9,"v":52},{"t":1999.05,"v":50},{"t":1999.25,"v":64},{"t":1999.5,"v":78},{"t":1999.7,"v":72},{"t":1999.85,"v":62},{"t":2000.05,"v":70},{"t":2000.3,"v":78},{"t":2000.55,"v":80},{"t":2000.8,"v":90},{"t":2001.0,"v":80},{"t":2001.15,"v":66},{"t":2001.35,"v":48},{"t":2001.55,"v":34},{"t":2001.75,"v":22},{"t":2001.95,"v":32},{"t":2002.1,"v":32},{"t":2002.3,"v":16},{"t":2002.5,"v":12},{"t":2002.7,"v":18},{"t":2002.9,"v":20},{"t":2003.15,"v":14},{"t":2003.35,"v":26},{"t":2003.5,"v":34},{"t":2003.75,"v":20},{"t":2003.95,"v":14},{"t":2004.15,"v":30},{"t":2004.35,"v":52},{"t":2004.55,"v":70},{"t":2004.7,"v":56},{"t":2004.9,"v":36},{"t":2005.1,"v":48},{"t":2005.35,"v":68},{"t":2005.55,"v":68},{"t":2005.75,"v":42},{"t":2005.95,"v":20},{"t":2006.15,"v":10},{"t":2006.35,"v":14},{"t":2006.6,"v":18},{"t":2006.8,"v":32},{"t":2006.95,"v":54},{"t":2007.15,"v":78},{"t":2007.4,"v":92},{"t":2007.6,"v":82},{"t":2007.75,"v":56},{"t":2007.95,"v":28},{"t":2008.1,"v":16},{"t":2008.3,"v":18},{"t":2008.5,"v":22},{"t":2008.65,"v":26},{"t":2008.85,"v":54},{"t":2009.0,"v":54},{"t":2009.15,"v":26},{"t":2009.3,"v":12},{"t":2009.5,"v":14},{"t":2009.7,"v":16},{"t":2009.99,"v":20.1}],
"k21":[{"t":1986.42,"v":94.9},{"t":1986.62,"v":88.3},{"t":1986.83,"v":75.1},{"t":1987.03,"v":61.9},{"t":1987.24,"v":48.7},{"t":1987.44,"v":35.5},{"t":1987.65,"v":25.6},{"t":1987.85,"v":19},{"t":1988.01,"v":20.6},{"t":1988.16,"v":25.6},{"t":1988.36,"v":35.5},{"t":1988.57,"v":45.4},{"t":1988.77,"v":55.3},{"t":1988.98,"v":65.2},{"t":1989.18,"v":75.1},{"t":1989.39,"v":81.7},{"t":1989.59,"v":83.3},{"t":1989.79,"v":75.1},{"t":1990.0,"v":55.3},{"t":1990.2,"v":47},{"t":1990.41,"v":55.3},{"t":1990.61,"v":65.2},{"t":1990.82,"v":71.8},{"t":1991.02,"v":75.1},{"t":1991.22,"v":85},{"t":1991.37,"v":91.6},{"t":1991.53,"v":88.3},{"t":1991.74,"v":85},{"t":1991.94,"v":88.3},{"t":1992.15,"v":89.9},{"t":1992.35,"v":88.3},{"t":1992.55,"v":85},{"t":1992.76,"v":81.7},{"t":1992.96,"v":75.1},{"t":1993.17,"v":68.5},{"t":1993.37,"v":52},{"t":1993.58,"v":35.5},{"t":1993.78,"v":19},{"t":1993.99,"v":12.4},{"t":1994.19,"v":14.1},{"t":1994.39,"v":14.1},{"t":1994.6,"v":17.4},{"t":1994.8,"v":22.3},{"t":1995.01,"v":35.5},{"t":1995.21,"v":58.6},{"t":1995.42,"v":78.4},{"t":1995.62,"v":80},{"t":1995.83,"v":85},{"t":1996.03,"v":78.4},{"t":1996.23,"v":71.8},{"t":1996.44,"v":70.2},{"t":1996.64,"v":78.4},{"t":1996.85,"v":88.3},{"t":1997.05,"v":93.2},{"t":1997.26,"v":91.6},{"t":1997.46,"v":89.9},{"t":1997.67,"v":91.6},{"t":1997.87,"v":89.9},{"t":1998.08,"v":91.6},{"t":1998.28,"v":93.2},{"t":1998.48,"v":91.6},{"t":1998.69,"v":81.7},{"t":1998.89,"v":71.8},{"t":1999.1,"v":65.2},{"t":1999.3,"v":71.8},{"t":1999.51,"v":78.4},{"t":1999.71,"v":75.1},{"t":1999.92,"v":73.5},{"t":2000.12,"v":75.1},{"t":2000.33,"v":81.7},{"t":2000.53,"v":86.6},{"t":2000.73,"v":88.3},{"t":2000.94,"v":85},{"t":2001.14,"v":75.1},{"t":2001.35,"v":61.9},{"t":2001.55,"v":48.7},{"t":2001.76,"v":35.5},{"t":2001.96,"v":25.6},{"t":2002.17,"v":19},{"t":2002.37,"v":14.1},{"t":2002.57,"v":10.8},{"t":2002.78,"v":9.1},{"t":2002.98,"v":10.8},{"t":2003.19,"v":12.4},{"t":2003.39,"v":12.4},{"t":2003.6,"v":12.4},{"t":2003.8,"v":11.7},{"t":2004.01,"v":10.8},{"t":2004.21,"v":22.3},{"t":2004.42,"v":35.5},{"t":2004.62,"v":43.8},{"t":2004.82,"v":43.8},{"t":2005.03,"v":45.4},{"t":2005.23,"v":48.7},{"t":2005.44,"v":58.6},{"t":2005.56,"v":65.2},{"t":2005.7,"v":58.6},{"t":2005.95,"v":38.8},{"t":2006.15,"v":19},{"t":2006.36,"v":9.1},{"t":2006.56,"v":14.1},{"t":2006.77,"v":19},{"t":2006.97,"v":24},{"t":2007.18,"v":35.5},{"t":2007.38,"v":52},{"t":2007.59,"v":63.6},{"t":2007.73,"v":65.2},{"t":2007.89,"v":58.6},{"t":2008.1,"v":35.5},{"t":2008.3,"v":22.3},{"t":2008.5,"v":17.4},{"t":2008.71,"v":25.6},{"t":2008.87,"v":35.5},{"t":2009.02,"v":33.9},{"t":2009.22,"v":28.9},{"t":2009.43,"v":15.7},{"t":2009.63,"v":12.4},{"t":2009.84,"v":14.1},{"t":2009.99,"v":13.6}],
"d21":[{"t":1987.34,"v":80},{"t":1987.65,"v":58.6},{"t":1987.95,"v":38.8},{"t":1988.26,"v":28.9},{"t":1988.51,"v":27.2},{"t":1988.77,"v":35.5},{"t":1989.08,"v":48.7},{"t":1989.38,"v":61.9},{"t":1989.69,"v":71.8},{"t":1990.0,"v":70.2},{"t":1990.3,"v":65.2},{"t":1990.71,"v":58.6},{"t":1991.02,"v":61.9},{"t":1991.33,"v":71.8},{"t":1991.74,"v":83.3},{"t":1992.15,"v":88.3},{"t":1992.55,"v":86.6},{"t":1992.96,"v":83.3},{"t":1993.27,"v":75.1},{"t":1993.58,"v":58.6},{"t":1993.99,"v":35.5},{"t":1994.35,"v":19},{"t":1994.7,"v":15.7},{"t":1995.01,"v":24},{"t":1995.42,"v":48.7},{"t":1995.83,"v":71.8},{"t":1996.23,"v":78.4},{"t":1996.64,"v":76.7},{"t":1997.05,"v":81.7},{"t":1997.46,"v":86.6},{"t":1997.87,"v":88.3},{"t":1998.28,"v":90.9},{"t":1998.69,"v":89.9},{"t":1999.1,"v":81.7},{"t":1999.51,"v":73.5},{"t":1999.92,"v":71.8},{"t":2000.33,"v":75.1},{"t":2000.73,"v":80},{"t":2001.14,"v":83.3},{"t":2001.35,"v":80},{"t":2001.65,"v":65.2},{"t":2001.96,"v":48.7},{"t":2002.27,"v":32.2},{"t":2002.57,"v":20.6},{"t":2002.98,"v":14.1},{"t":2003.39,"v":12.4},{"t":2003.8,"v":14.1},{"t":2004.21,"v":17.4},{"t":2004.62,"v":25.6},{"t":2005.03,"v":38.8},{"t":2005.44,"v":48.7},{"t":2005.95,"v":50.3},{"t":2006.26,"v":42.1},{"t":2006.67,"v":28.9},{"t":2007.07,"v":19},{"t":2007.48,"v":28.9},{"t":2007.79,"v":42.1},{"t":2008.14,"v":49.3},{"t":2008.5,"v":42.1},{"t":2008.81,"v":32.2},{"t":2009.12,"v":27.2},{"t":2009.53,"v":25.6},{"t":2009.84,"v":24},{"t":2009.99,"v":21.5}],
"k34":[{"t":1987.85,"v":49.5},{"t":1988.06,"v":39.9},{"t":1988.26,"v":35},{"t":1988.57,"v":34.4},{"t":1988.87,"v":43.2},{"t":1989.18,"v":51.4},{"t":1989.45,"v":64.5},{"t":1989.69,"v":71.1},{"t":1989.9,"v":69.4},{"t":1990.1,"v":71.1},{"t":1990.3,"v":69.4},{"t":1990.51,"v":71.1},{"t":1990.71,"v":64.5},{"t":1990.96,"v":67.8},{"t":1991.22,"v":80.9},{"t":1991.49,"v":87.5},{"t":1991.74,"v":85.9},{"t":1991.94,"v":89.1},{"t":1992.19,"v":89.1},{"t":1992.45,"v":88.2},{"t":1992.76,"v":87.5},{"t":1993.07,"v":87.5},{"t":1993.27,"v":77.7},{"t":1993.54,"v":64.5},{"t":1993.78,"v":51.4},{"t":1993.99,"v":38.3},{"t":1994.23,"v":23.6},{"t":1994.5,"v":17},{"t":1994.7,"v":18.6},{"t":1994.97,"v":25.2},{"t":1995.21,"v":33.4},{"t":1995.52,"v":41.6},{"t":1995.83,"v":51.4},{"t":1996.03,"v":59.6},{"t":1996.28,"v":67.8},{"t":1996.54,"v":74.4},{"t":1996.85,"v":80.9},{"t":1997.16,"v":89.1},{"t":1997.42,"v":94},{"t":1997.67,"v":92.4},{"t":1997.97,"v":91.4},{"t":1998.28,"v":90.8},{"t":1998.53,"v":92.4},{"t":1998.79,"v":84.2},{"t":1999.1,"v":79.3},{"t":1999.41,"v":77.7},{"t":1999.71,"v":74.4},{"t":1999.92,"v":80.9},{"t":2000.12,"v":80.9},{"t":2000.33,"v":84.2},{"t":2000.53,"v":85.9},{"t":2000.77,"v":89.1},{"t":2001.04,"v":84.2},{"t":2001.35,"v":74.4},{"t":2001.55,"v":67.8},{"t":2001.76,"v":58},{"t":2001.96,"v":44.9},{"t":2002.17,"v":35},{"t":2002.47,"v":23.6},{"t":2002.78,"v":15.4},{"t":2003.09,"v":10.4},{"t":2003.39,"v":10.4},{"t":2003.7,"v":8.8},{"t":2004.01,"v":8.8},{"t":2004.21,"v":10.4},{"t":2004.52,"v":15.4},{"t":2004.82,"v":21.9},{"t":2005.13,"v":30.1},{"t":2005.44,"v":35},{"t":2005.68,"v":35},{"t":2005.95,"v":30.1},{"t":2006.26,"v":21.9},{"t":2006.56,"v":16},{"t":2006.87,"v":18},{"t":2007.18,"v":26.8},{"t":2007.44,"v":33.4},{"t":2007.69,"v":36.7},{"t":2008.0,"v":30.1},{"t":2008.3,"v":23.6},{"t":2008.55,"v":18.6},{"t":2008.81,"v":25.2},{"t":2009.12,"v":26.8},{"t":2009.43,"v":25.2},{"t":2009.69,"v":23.6},{"t":2009.84,"v":20.3},{"t":2009.99,"v":13.1}],
"d34":[{"t":1989.49,"v":42.3},{"t":1989.9,"v":49.8},{"t":1990.3,"v":59.6},{"t":1990.71,"v":66.2},{"t":1991.12,"v":71.1},{"t":1991.53,"v":76},{"t":1991.94,"v":80.9},{"t":1992.35,"v":85.9},{"t":1992.76,"v":88.2},{"t":1993.07,"v":87.5},{"t":1993.37,"v":79.3},{"t":1993.78,"v":64.5},{"t":1994.19,"v":49.8},{"t":1994.6,"v":36.7},{"t":1995.01,"v":28.5},{"t":1995.32,"v":27.8},{"t":1995.66,"v":31.7},{"t":1996.03,"v":41.6},{"t":1996.44,"v":54.7},{"t":1996.85,"v":67.8},{"t":1997.26,"v":77.7},{"t":1997.67,"v":84.2},{"t":1998.08,"v":89.1},{"t":1998.48,"v":91.4},{"t":1998.89,"v":90.1},{"t":1999.3,"v":87.5},{"t":1999.71,"v":84.2},{"t":2000.12,"v":81.6},{"t":2000.53,"v":80.9},{"t":2000.94,"v":82.6},{"t":2001.35,"v":84.2},{"t":2001.65,"v":80.9},{"t":2001.96,"v":71.1},{"t":2002.37,"v":54.7},{"t":2002.78,"v":38.3},{"t":2003.19,"v":25.2},{"t":2003.6,"v":15.4},{"t":2004.01,"v":10.4},{"t":2004.42,"v":11.4},{"t":2004.82,"v":15.4},{"t":2005.23,"v":21.9},{"t":2005.64,"v":26.8},{"t":2006.05,"v":28.5},{"t":2006.46,"v":27.8},{"t":2006.87,"v":25.8},{"t":2007.28,"v":25.8},{"t":2007.69,"v":25.8},{"t":2008.1,"v":26.8},{"t":2008.51,"v":26.8},{"t":2008.92,"v":26.8},{"t":2009.33,"v":26.8},{"t":2009.73,"v":25.8},{"t":2009.99,"v":22.5}],
"bb":[{"t":1985.8,"v":8.2},{"t":1986.11,"v":9},{"t":1986.42,"v":19.9},{"t":1986.73,"v":20.7},{"t":1987.03,"v":18.6},{"t":1987.34,"v":15.5},{"t":1987.65,"v":13.4},{"t":1987.95,"v":14.2},{"t":1988.26,"v":11.2},{"t":1988.67,"v":9},{"t":1988.98,"v":8.2},{"t":1989.28,"v":9.9},{"t":1989.69,"v":9},{"t":1990.1,"v":9},{"t":1990.51,"v":9},{"t":1990.82,"v":11.2},{"t":1991.12,"v":15.5},{"t":1991.43,"v":22},{"t":1991.74,"v":22.9},{"t":1992.04,"v":22},{"t":1992.31,"v":24.2},{"t":1992.55,"v":19.9},{"t":1992.86,"v":16.8},{"t":1993.17,"v":19.9},{"t":1993.41,"v":15.5},{"t":1993.68,"v":24.2},{"t":1993.99,"v":27.2},{"t":1994.29,"v":27.7},{"t":1994.56,"v":27.2},{"t":1994.76,"v":17.7},{"t":1994.97,"v":9},{"t":1995.21,"v":13.4},{"t":1995.52,"v":12.5},{"t":1995.83,"v":14.2},{"t":1996.13,"v":12.5},{"t":1996.44,"v":11.2},{"t":1996.64,"v":13.4},{"t":1996.85,"v":19.9},{"t":1997.05,"v":30.7},{"t":1997.26,"v":48},{"t":1997.5,"v":63.2},{"t":1997.67,"v":74},{"t":1997.87,"v":87},{"t":1998.08,"v":95.6},{"t":1998.28,"v":102.1},{"t":1998.48,"v":104.3},{"t":1998.65,"v":113},{"t":1998.79,"v":104.3},{"t":1998.99,"v":106.4},{"t":1999.26,"v":107.3},{"t":1999.51,"v":102.1},{"t":1999.81,"v":95.6},{"t":2000.12,"v":87},{"t":2000.33,"v":97.8},{"t":2000.49,"v":84.8},{"t":2000.73,"v":104.3},{"t":2000.94,"v":117.3},{"t":2001.18,"v":117.3},{"t":2001.39,"v":108.6},{"t":2001.55,"v":91.3},{"t":2001.76,"v":80.5},{"t":2001.96,"v":87},{"t":2002.17,"v":113},{"t":2002.37,"v":134.6},{"t":2002.53,"v":138.9},{"t":2002.67,"v":130.3},{"t":2002.88,"v":125.9},{"t":2003.09,"v":123.8},{"t":2003.29,"v":113},{"t":2003.43,"v":100},{"t":2003.6,"v":87},{"t":2003.76,"v":71.8},{"t":2003.9,"v":61},{"t":2004.11,"v":58.8},{"t":2004.37,"v":52.3},{"t":2004.62,"v":41.5},{"t":2004.93,"v":39.3},{"t":2005.19,"v":41.5},{"t":2005.44,"v":37.2},{"t":2005.68,"v":38.5},{"t":2005.95,"v":48},{"t":2006.21,"v":61},{"t":2006.46,"v":69.6},{"t":2006.67,"v":71.8},{"t":2006.87,"v":65.3},{"t":2007.07,"v":52.3},{"t":2007.28,"v":35},{"t":2007.59,"v":31.5},{"t":2007.89,"v":30.7},{"t":2008.14,"v":35},{"t":2008.4,"v":45.8},{"t":2008.67,"v":50.2},{"t":2008.87,"v":57.5},{"t":2009.12,"v":57.5},{"t":2009.43,"v":56.7},{"t":2009.73,"v":57.5},{"t":2009.99,"v":58.8}],
"adx":[{"t":1986.11,"v":28.3},{"t":1986.42,"v":35.5},{"t":1986.73,"v":33.5},{"t":1987.03,"v":27.5},{"t":1987.34,"v":24.1},{"t":1987.65,"v":23.2},{"t":1987.95,"v":23.5},{"t":1988.26,"v":24.1},{"t":1988.67,"v":25.8},{"t":1989.08,"v":28.3},{"t":1989.49,"v":30.4},{"t":1989.79,"v":31.7},{"t":1990.0,"v":26.6},{"t":1990.3,"v":22.3},{"t":1990.71,"v":18.9},{"t":1991.02,"v":17.7},{"t":1991.33,"v":19.8},{"t":1991.74,"v":23.2},{"t":1992.15,"v":24.1},{"t":1992.55,"v":28.3},{"t":1992.96,"v":28.3},{"t":1993.27,"v":25.8},{"t":1993.68,"v":21.5},{"t":1994.09,"v":18.1},{"t":1994.5,"v":14.6},{"t":1994.91,"v":12.9},{"t":1995.31,"v":12.1},{"t":1995.72,"v":12.1},{"t":1996.03,"v":10.9},{"t":1996.44,"v":11.2},{"t":1996.75,"v":12.9},{"t":1997.05,"v":18.1},{"t":1997.36,"v":27.5},{"t":1997.67,"v":36.9},{"t":1997.97,"v":43.7},{"t":1998.28,"v":48},{"t":1998.53,"v":49.2},{"t":1998.79,"v":45.4},{"t":1999.1,"v":42},{"t":1999.41,"v":39.4},{"t":1999.71,"v":33.5},{"t":2000.02,"v":30.9},{"t":2000.33,"v":28.3},{"t":2000.63,"v":26.6},{"t":2000.94,"v":25.8},{"t":2001.24,"v":26.6},{"t":2001.55,"v":25.2},{"t":2001.86,"v":21.5},{"t":2002.17,"v":20.6},{"t":2002.47,"v":21.1},{"t":2002.78,"v":20.1},{"t":2003.09,"v":19.4},{"t":2003.39,"v":18.9},{"t":2003.8,"v":20.6},{"t":2004.21,"v":18.1},{"t":2004.62,"v":14.6},{"t":2005.03,"v":12.6},{"t":2005.44,"v":10.9},{"t":2005.74,"v":12.1},{"t":2006.05,"v":15.5},{"t":2006.36,"v":16.3},{"t":2006.67,"v":13.8},{"t":2006.97,"v":11.6},{"t":2007.28,"v":9.9},{"t":2007.59,"v":9.5},{"t":2007.89,"v":11.6},{"t":2008.2,"v":13.3},{"t":2008.5,"v":13.8},{"t":2008.81,"v":16},{"t":2009.12,"v":14.6},{"t":2009.43,"v":12.1},{"t":2009.73,"v":10.4},{"t":2009.99,"v":8.1}],
"pdi":[{"t":1985.09,"v":35.2},{"t":1985.19,"v":32.6},{"t":1985.4,"v":33.5},{"t":1985.6,"v":36.9},{"t":1985.81,"v":45.4},{"t":1986.01,"v":54},{"t":1986.17,"v":58.3},{"t":1986.32,"v":52.3},{"t":1986.52,"v":57.4},{"t":1986.62,"v":45.4},{"t":1986.79,"v":36.9},{"t":1986.93,"v":31.7},{"t":1987.07,"v":35.2},{"t":1987.24,"v":26.6},{"t":1987.4,"v":30},{"t":1987.6,"v":23.2},{"t":1987.81,"v":26.6},{"t":1987.95,"v":42},{"t":1988.1,"v":33.5},{"t":1988.26,"v":40.3},{"t":1988.46,"v":36.9},{"t":1988.67,"v":38.6},{"t":1988.87,"v":36},{"t":1989.08,"v":39.4},{"t":1989.28,"v":36.9},{"t":1989.45,"v":42},{"t":1989.65,"v":35.2},{"t":1989.85,"v":30},{"t":1990.0,"v":24.9},{"t":1990.14,"v":28.3},{"t":1990.3,"v":33.5},{"t":1990.51,"v":36.9},{"t":1990.71,"v":30.9},{"t":1990.92,"v":41.2},{"t":1991.12,"v":43.7},{"t":1991.33,"v":40.3},{"t":1991.49,"v":42},{"t":1991.7,"v":40.3},{"t":1991.9,"v":45.4},{"t":1992.11,"v":43.7},{"t":1992.31,"v":46.3},{"t":1992.52,"v":40.3},{"t":1992.76,"v":45.4},{"t":1992.96,"v":40.3},{"t":1993.17,"v":30},{"t":1993.37,"v":24.9},{"t":1993.58,"v":24.1},{"t":1993.78,"v":26.6},{"t":1993.99,"v":32.6},{"t":1994.19,"v":30},{"t":1994.39,"v":36.9},{"t":1994.6,"v":30.9},{"t":1994.8,"v":33.5},{"t":1995.01,"v":31.7},{"t":1995.21,"v":36.9},{"t":1995.42,"v":33.5},{"t":1995.62,"v":38.6},{"t":1995.83,"v":33.5},{"t":1996.03,"v":32.6},{"t":1996.23,"v":38.6},{"t":1996.44,"v":36.9},{"t":1996.64,"v":42},{"t":1996.85,"v":48},{"t":1997.05,"v":50.6},{"t":1997.16,"v":45.4},{"t":1997.3,"v":52.3},{"t":1997.57,"v":47.1},{"t":1997.77,"v":52.3},{"t":1997.93,"v":48.9},{"t":1998.12,"v":54},{"t":1998.28,"v":50.6},{"t":1998.44,"v":45.4},{"t":1998.59,"v":60.8},{"t":1998.73,"v":50.6},{"t":1998.89,"v":52.3},{"t":1999.1,"v":54},{"t":1999.3,"v":48.9},{"t":1999.51,"v":52.3},{"t":1999.71,"v":45.4},{"t":1999.92,"v":50.6},{"t":2000.12,"v":47.1},{"t":2000.33,"v":50.6},{"t":2000.53,"v":45.4},{"t":2000.73,"v":47.1},{"t":2000.94,"v":40.3},{"t":2001.14,"v":35.2},{"t":2001.35,"v":31.7},{"t":2001.55,"v":36.9},{"t":2001.76,"v":28.3},{"t":2001.96,"v":23.2},{"t":2002.17,"v":21.5},{"t":2002.37,"v":23.2},{"t":2002.57,"v":24.9},{"t":2002.78,"v":23.2},{"t":2002.98,"v":24.1},{"t":2003.19,"v":21.5},{"t":2003.39,"v":23.2},{"t":2003.6,"v":21.5},{"t":2003.8,"v":19.8},{"t":2004.01,"v":26.6},{"t":2004.11,"v":33.5},{"t":2004.31,"v":28.3},{"t":2004.52,"v":36.9},{"t":2004.72,"v":32.6},{"t":2004.93,"v":36.9},{"t":2005.13,"v":31.7},{"t":2005.34,"v":34.3},{"t":2005.54,"v":30},{"t":2005.74,"v":33.5},{"t":2005.95,"v":27.5},{"t":2006.15,"v":24.9},{"t":2006.36,"v":30},{"t":2006.56,"v":36.9},{"t":2006.77,"v":33.5},{"t":2006.97,"v":38.6},{"t":2007.18,"v":35.2},{"t":2007.38,"v":36.9},{"t":2007.59,"v":28.3},{"t":2007.79,"v":25.8},{"t":2008.0,"v":28.3},{"t":2008.2,"v":24.9},{"t":2008.4,"v":30},{"t":2008.55,"v":24.9},{"t":2008.71,"v":30},{"t":2008.81,"v":54},{"t":2008.95,"v":40.3},{"t":2009.12,"v":33.5},{"t":2009.32,"v":31.7},{"t":2009.53,"v":35.2},{"t":2009.73,"v":33.5},{"t":2009.99,"v":34.5}],
"mdi":[{"t":1985.09,"v":16.3},{"t":1985.19,"v":27.5},{"t":1985.4,"v":23.2},{"t":1985.6,"v":28.3},{"t":1985.81,"v":24.9},{"t":1986.01,"v":19.8},{"t":1986.22,"v":15.5},{"t":1986.42,"v":12.9},{"t":1986.62,"v":23.2},{"t":1986.83,"v":27.5},{"t":1987.03,"v":30},{"t":1987.24,"v":37.7},{"t":1987.44,"v":31.7},{"t":1987.65,"v":36.9},{"t":1987.85,"v":24.9},{"t":1988.06,"v":23.2},{"t":1988.26,"v":24.1},{"t":1988.46,"v":22.3},{"t":1988.67,"v":21.5},{"t":1988.87,"v":19.8},{"t":1989.08,"v":20.6},{"t":1989.28,"v":17.2},{"t":1989.49,"v":18.9},{"t":1989.69,"v":23.2},{"t":1989.9,"v":28.3},{"t":1990.1,"v":32.6},{"t":1990.3,"v":30},{"t":1990.51,"v":24.9},{"t":1990.71,"v":23.2},{"t":1990.92,"v":19.8},{"t":1991.12,"v":21.5},{"t":1991.33,"v":18.1},{"t":1991.53,"v":21.5},{"t":1991.74,"v":19.8},{"t":1991.94,"v":23.2},{"t":1992.15,"v":20.6},{"t":1992.35,"v":24.9},{"t":1992.55,"v":23.2},{"t":1992.76,"v":24.9},{"t":1992.96,"v":30},{"t":1993.17,"v":30},{"t":1993.37,"v":38.6},{"t":1993.58,"v":42},{"t":1993.78,"v":38.6},{"t":1993.99,"v":42.9},{"t":1994.19,"v":43.7},{"t":1994.39,"v":40.3},{"t":1994.6,"v":36.9},{"t":1994.8,"v":38.6},{"t":1995.01,"v":33.5},{"t":1995.21,"v":30},{"t":1995.42,"v":31.7},{"t":1995.62,"v":27.5},{"t":1995.83,"v":32.6},{"t":1996.03,"v":30},{"t":1996.23,"v":33.5},{"t":1996.44,"v":27.5},{"t":1996.64,"v":23.2},{"t":1996.85,"v":21.5},{"t":1997.05,"v":16.3},{"t":1997.26,"v":19.8},{"t":1997.46,"v":14.6},{"t":1997.67,"v":12.1},{"t":1997.87,"v":16.3},{"t":1998.08,"v":12.9},{"t":1998.28,"v":11.2},{"t":1998.48,"v":12.9},{"t":1998.65,"v":8},{"t":1998.73,"v":26.6},{"t":1998.89,"v":23.2},{"t":1999.1,"v":26.6},{"t":1999.3,"v":21.5},{"t":1999.51,"v":28.3},{"t":1999.71,"v":24.9},{"t":1999.92,"v":36.9},{"t":2000.12,"v":32.6},{"t":2000.33,"v":30},{"t":2000.53,"v":35.2},{"t":2000.73,"v":30},{"t":2000.94,"v":23.2},{"t":2001.14,"v":30},{"t":2001.35,"v":33.5},{"t":2001.55,"v":28.3},{"t":2001.76,"v":33.5},{"t":2001.96,"v":38.6},{"t":2002.17,"v":35.2},{"t":2002.37,"v":41.2},{"t":2002.57,"v":36.9},{"t":2002.78,"v":33.5},{"t":2002.98,"v":35.2},{"t":2003.19,"v":31.7},{"t":2003.39,"v":36},{"t":2003.6,"v":33.5},{"t":2003.8,"v":38.6},{"t":2004.01,"v":35.2},{"t":2004.21,"v":31.7},{"t":2004.42,"v":36.9},{"t":2004.62,"v":32.6},{"t":2004.83,"v":35.2},{"t":2005.03,"v":32.6},{"t":2005.23,"v":36.9},{"t":2005.44,"v":33.5},{"t":2005.64,"v":38.6},{"t":2005.85,"v":42},{"t":2006.05,"v":48},{"t":2006.26,"v":43.7},{"t":2006.46,"v":45.4},{"t":2006.67,"v":40.3},{"t":2006.87,"v":36.9},{"t":2007.07,"v":39.4},{"t":2007.28,"v":35.2},{"t":2007.48,"v":38.6},{"t":2007.69,"v":33.5},{"t":2007.89,"v":40.3},{"t":2008.1,"v":43.7},{"t":2008.3,"v":36.9},{"t":2008.51,"v":31.7},{"t":2008.71,"v":23.2},{"t":2008.81,"v":21.5},{"t":2008.92,"v":28.3},{"t":2009.12,"v":30},{"t":2009.33,"v":33.5},{"t":2009.53,"v":35.2},{"t":2009.73,"v":33.5},{"t":2009.99,"v":35.3}],
"srsi":[{"t":1985.23,"v":0},{"t":1985.27,"v":0.45},{"t":1985.35,"v":0.52},{"t":1985.44,"v":0.68},{"t":1985.52,"v":0.22},{"t":1985.6,"v":0.29},{"t":1985.7,"v":0.55},{"t":1985.81,"v":0.79},{"t":1985.91,"v":0.91},{"t":1986.01,"v":1},{"t":1986.42,"v":1},{"t":1986.52,"v":0.84},{"t":1986.66,"v":0.5},{"t":1986.75,"v":0},{"t":1986.87,"v":0.16},{"t":1987.03,"v":0.06},{"t":1987.2,"v":0.19},{"t":1987.34,"v":0},{"t":1987.48,"v":0.21},{"t":1987.65,"v":0.12},{"t":1987.75,"v":0},{"t":1987.85,"v":0.5},{"t":1987.95,"v":0.06},{"t":1988.06,"v":0.65},{"t":1988.16,"v":0.75},{"t":1988.3,"v":0.68},{"t":1988.46,"v":0.79},{"t":1988.63,"v":0.91},{"t":1988.77,"v":1},{"t":1988.98,"v":1},{"t":1989.12,"v":0.21},{"t":1989.24,"v":0.65},{"t":1989.38,"v":1},{"t":1989.53,"v":0.58},{"t":1989.69,"v":0.45},{"t":1989.85,"v":0.26},{"t":1990.0,"v":0.03},{"t":1990.14,"v":0.19},{"t":1990.3,"v":0.71},{"t":1990.45,"v":0.48},{"t":1990.61,"v":0.65},{"t":1990.75,"v":0.91},{"t":1990.88,"v":0.61},{"t":1991.02,"v":1},{"t":1991.22,"v":1},{"t":1991.37,"v":0.97},{"t":1991.53,"v":0.75},{"t":1991.63,"v":0.91},{"t":1991.78,"v":0.68},{"t":1991.9,"v":0.06},{"t":1992.0,"v":0.55},{"t":1992.15,"v":0.35},{"t":1992.27,"v":0.78},{"t":1992.39,"v":0.29},{"t":1992.55,"v":0.16},{"t":1992.72,"v":0.32},{"t":1992.86,"v":0.39},{"t":1993.0,"v":0.16},{"t":1993.17,"v":0.03},{"t":1993.37,"v":0},{"t":1993.58,"v":0.12},{"t":1993.74,"v":0.32},{"t":1993.88,"v":0.22},{"t":1994.03,"v":0.32},{"t":1994.19,"v":0.35},{"t":1994.29,"v":1},{"t":1994.5,"v":1},{"t":1994.7,"v":0.91},{"t":1994.84,"v":0.5},{"t":1994.97,"v":1},{"t":1995.17,"v":0.97},{"t":1995.31,"v":0.65},{"t":1995.46,"v":0.84},{"t":1995.62,"v":0.75},{"t":1995.83,"v":0.91},{"t":1995.99,"v":0.45},{"t":1996.13,"v":0.12},{"t":1996.28,"v":0.03},{"t":1996.44,"v":1},{"t":1996.85,"v":1},{"t":1997.01,"v":0.81},{"t":1997.18,"v":0.97},{"t":1997.36,"v":0.75},{"t":1997.5,"v":0.94},{"t":1997.67,"v":0.75},{"t":1997.77,"v":0},{"t":1997.91,"v":0.71},{"t":1998.08,"v":0.91},{"t":1998.18,"v":0.61},{"t":1998.32,"v":0.81},{"t":1998.44,"v":0.35},{"t":1998.59,"v":0.06},{"t":1998.73,"v":0.5},{"t":1998.89,"v":0.19},{"t":1999.06,"v":0.58},{"t":1999.2,"v":0.5},{"t":1999.34,"v":0.35},{"t":1999.51,"v":0.45},{"t":1999.67,"v":0.19},{"t":1999.81,"v":0.32},{"t":1999.92,"v":0.55},{"t":2000.08,"v":0.68},{"t":2000.22,"v":0.81},{"t":2000.37,"v":0.48},{"t":2000.53,"v":0.97},{"t":2000.63,"v":1},{"t":2000.73,"v":0.91},{"t":2000.86,"v":0},{"t":2001.04,"v":0.19},{"t":2001.18,"v":0},{"t":2001.35,"v":0.12},{"t":2001.51,"v":0},{"t":2001.65,"v":0.12},{"t":2001.8,"v":0.32},{"t":2001.92,"v":0.5},{"t":2002.06,"v":0.32},{"t":2002.21,"v":0},{"t":2002.37,"v":0.12},{"t":2002.53,"v":0.06},{"t":2002.68,"v":0.32},{"t":2002.82,"v":0.58},{"t":2002.98,"v":0.78},{"t":2003.15,"v":0.39},{"t":2003.29,"v":0.97},{"t":2003.43,"v":0.78},{"t":2003.6,"v":0.5},{"t":2003.76,"v":0.19},{"t":2003.9,"v":0.03},{"t":2004.05,"v":0.78},{"t":2004.21,"v":0.91},{"t":2004.37,"v":0.68},{"t":2004.52,"v":0.88},{"t":2004.66,"v":0.5},{"t":2004.82,"v":0.45},{"t":2004.99,"v":0.65},{"t":2005.13,"v":0.75},{"t":2005.27,"v":0.84},{"t":2005.44,"v":0.58},{"t":2005.6,"v":0.16},{"t":2005.74,"v":0.06},{"t":2005.89,"v":0},{"t":2006.05,"v":0.12},{"t":2006.22,"v":0.32},{"t":2006.36,"v":0.26},{"t":2006.5,"v":0.45},{"t":2006.62,"v":0.68},{"t":2006.77,"v":1},{"t":2007.18,"v":1},{"t":2007.32,"v":0.78},{"t":2007.48,"v":1},{"t":2007.65,"v":0.45},{"t":2007.79,"v":0},{"t":2007.93,"v":0.16},{"t":2008.1,"v":0},{"t":2008.26,"v":0.45},{"t":2008.4,"v":0.19},{"t":2008.55,"v":0.42},{"t":2008.67,"v":1},{"t":2008.81,"v":1},{"t":2008.92,"v":0.45},{"t":2009.08,"v":0.32},{"t":2009.22,"v":0.26},{"t":2009.36,"v":0.19},{"t":2009.45,"v":0.22},{"t":2009.59,"v":0.16},{"t":2009.73,"v":0.19},{"t":2009.86,"v":0.22},{"t":2009.99,"v":0.95}],
"aup":[{"t":1985.74,"v":66},{"t":1985.76,"v":95},{"t":1985.8,"v":100},{"t":1986.5,"v":100},{"t":1988.25,"v":0},{"t":1988.3,"v":0},{"t":1988.32,"v":66},{"t":1989.27,"v":14},{"t":1989.3,"v":100},{"t":1990.15,"v":52},{"t":1990.2,"v":45},{"t":1990.22,"v":100},{"t":1990.5,"v":86},{"t":1990.55,"v":100},{"t":1990.75,"v":81},{"t":1990.78,"v":100},{"t":1991.2,"v":95},{"t":1991.3,"v":100},{"t":1991.55,"v":86},{"t":1991.6,"v":100},{"t":1991.9,"v":100},{"t":1992.1,"v":82},{"t":1992.15,"v":100},{"t":1992.5,"v":100},{"t":1992.6,"v":95},{"t":1992.65,"v":100},{"t":1992.95,"v":100},{"t":1994.7,"v":0},{"t":1994.95,"v":0},{"t":1994.97,"v":100},{"t":1995.6,"v":64},{"t":1995.62,"v":100},{"t":1995.9,"v":84},{"t":1996.3,"v":61},{"t":1996.32,"v":100},{"t":1996.6,"v":95},{"t":1996.65,"v":100},{"t":1996.9,"v":95},{"t":1997.0,"v":100},{"t":1997.3,"v":90},{"t":1997.35,"v":100},{"t":1997.6,"v":90},{"t":1997.65,"v":100},{"t":1997.9,"v":90},{"t":1997.95,"v":100},{"t":1998.2,"v":95},{"t":1998.25,"v":100},{"t":1998.85,"v":100},{"t":1999.9,"v":40},{"t":2000.0,"v":25},{"t":2000.02,"v":100},{"t":2000.2,"v":90},{"t":2000.25,"v":100},{"t":2000.4,"v":95},{"t":2000.45,"v":100},{"t":2000.9,"v":100},{"t":2002.6,"v":0},{"t":2002.75,"v":10},{"t":2002.8,"v":0},{"t":2003.0,"v":15},{"t":2003.05,"v":0},{"t":2003.3,"v":12},{"t":2003.4,"v":0},{"t":2003.7,"v":15},{"t":2003.8,"v":0},{"t":2004.1,"v":18},{"t":2004.2,"v":0},{"t":2004.5,"v":18},{"t":2004.6,"v":0},{"t":2004.98,"v":0},{"t":2005.0,"v":53},{"t":2005.93,"v":0},{"t":2006.05,"v":0},{"t":2006.07,"v":53},{"t":2007.0,"v":0},{"t":2007.33,"v":0},{"t":2007.35,"v":100},{"t":2008.65,"v":26},{"t":2008.67,"v":100},{"t":2009.0,"v":98},{"t":2009.99,"v":33.3}],
"adn":[{"t":1985.74,"v":10},{"t":1985.85,"v":0},{"t":1986.45,"v":0},{"t":1986.5,"v":19},{"t":1986.75,"v":0},{"t":1987.0,"v":0},{"t":1987.05,"v":14},{"t":1987.3,"v":0},{"t":1987.72,"v":0},{"t":1987.74,"v":100},{"t":1989.5,"v":0},{"t":1989.6,"v":0},{"t":1989.65,"v":19},{"t":1989.85,"v":0},{"t":1990.05,"v":0},{"t":1990.07,"v":90},{"t":1991.6,"v":3},{"t":1991.95,"v":0},{"t":1992.0,"v":28},{"t":1992.3,"v":0},{"t":1992.5,"v":0},{"t":1992.55,"v":8},{"t":1992.75,"v":0},{"t":1992.9,"v":0},{"t":1992.95,"v":14},{"t":1993.18,"v":0},{"t":1993.2,"v":100},{"t":1993.7,"v":72},{"t":1993.72,"v":100},{"t":1994.25,"v":70},{"t":1994.27,"v":100},{"t":1996.02,"v":0},{"t":1996.1,"v":0},{"t":1996.15,"v":28},{"t":1996.45,"v":10},{"t":1996.5,"v":19},{"t":1996.8,"v":2},{"t":1996.9,"v":0},{"t":1996.95,"v":37},{"t":1997.6,"v":0},{"t":1998.0,"v":0},{"t":1998.05,"v":5},{"t":1998.15,"v":0},{"t":1998.45,"v":0},{"t":1998.5,"v":5},{"t":1998.6,"v":0},{"t":1998.75,"v":5},{"t":1998.85,"v":0},{"t":1999.0,"v":0},{"t":1999.05,"v":10},{"t":1999.2,"v":0},{"t":1999.35,"v":0},{"t":1999.37,"v":50},{"t":2000.25,"v":0},{"t":2000.4,"v":0},{"t":2000.45,"v":42},{"t":2001.15,"v":2},{"t":2001.2,"v":0},{"t":2001.6,"v":0},{"t":2001.62,"v":100},{"t":2002.0,"v":78},{"t":2002.02,"v":100},{"t":2002.3,"v":84},{"t":2002.32,"v":100},{"t":2002.6,"v":84},{"t":2002.62,"v":100},{"t":2003.0,"v":78},{"t":2003.02,"v":100},{"t":2003.3,"v":84},{"t":2003.32,"v":100},{"t":2003.75,"v":75},{"t":2003.77,"v":100},{"t":2004.0,"v":87},{"t":2004.02,"v":100},{"t":2005.77,"v":0},{"t":2006.03,"v":0},{"t":2006.05,"v":100},{"t":2007.8,"v":0},{"t":2007.9,"v":5},{"t":2007.95,"v":0},{"t":2008.08,"v":0},{"t":2008.1,"v":100},{"t":2008.3,"v":89},{"t":2008.32,"v":100},{"t":2008.6,"v":84},{"t":2008.62,"v":100},{"t":2009.12,"v":72},{"t":2009.14,"v":100},{"t":2009.99,"v":57}]
},
"vconcat":[
{"width":581,"height":28,"view":{"fill":"white","stroke":"transparent"},
 "encoding":{"x":{"field":"t","type":"quantitative","scale":{"domain":[1980.33,2010.13],"nice":false,"zero":false},"axis":null},"y":{"field":"v","type":"quantitative","scale":{"domain":[0,1],"reverse":true,"nice":false,"zero":false},"axis":null},"text":{"field":"txt"}},
 "layer":[
  {"data":{"values":[{"t":1979.77,"v":0.55,"txt":"$INDU:$XAU"}]},"mark":{"type":"text","fontSize":12,"fontWeight":"bold","baseline":"alphabetic"}},
  {"data":{"values":[{"t":1983.56,"v":0.55,"txt":"(Dow Jones Industrial Average/Gold & Silver Index - Philadelphia) INDX/INDX"}]},"mark":{"type":"text","fontSize":8.6,"baseline":"alphabetic"}},
  {"data":{"values":[{"t":2010.08,"v":0.5,"txt":"©StockCharts.com"}]},"mark":{"type":"text","fontSize":10,"align":"right","baseline":"alphabetic","color":"#444"}},
  {"data":{"values":[{"t":1979.87,"v":0.97,"txt":"28-Dec-2009"}]},"mark":{"type":"text","fontSize":9.5,"baseline":"alphabetic"}},
  {"data":{"values":[{"t":1994.821,"v":0.97,"txt":"Open"},{"t":1997.41,"v":0.97,"txt":"High"},{"t":1999.846,"v":0.97,"txt":"Low"},{"t":2002.179,"v":0.97,"txt":"Close"},{"t":2004.846,"v":0.97,"txt":"Chg"}]},"mark":{"type":"text","fontSize":9,"fontWeight":"bold","baseline":"alphabetic"}},
  {"data":{"values":[{"t":1996.128,"v":0.97,"txt":"60.39"},{"t":1998.564,"v":0.97,"txt":"61.60"},{"t":2000.897,"v":0.97,"txt":"59.76"},{"t":2003.564,"v":0.97,"txt":"61.57"},{"t":2005.872,"v":0.97,"txt":"+5.26 (+9.35%)"}]},"mark":{"type":"text","fontSize":9,"baseline":"alphabetic"}},
  {"data":{"values":[{"t":2009.308,"v":0.97,"txt":"▲"}]},"mark":{"type":"text","fontSize":8,"baseline":"alphabetic","color":"#2a9a2a"}}
 ]},
{"width":581,"height":117,"resolve":{"scale":{"y":"independent"}},
 "layer":[
  {"data":{"name":"rsi"},"mark":{"type":"area","color":"#000"},"encoding":{"x":{"field":"t","type":"quantitative","scale":{"domain":[1980.33,2010.13],"nice":false,"zero":false},"axis":{"values":[1981,1982,1983,1984,1985,1986,1987,1988,1989,1990,1991,1992,1993,1994,1995,1996,1997,1998,1999,2000,2001,2002,2003,2004,2005,2006,2007,2008,2009],"labels":false,"grid":true,"gridColor":"#DCD5A5","title":null}},"y":{"field":"v","type":"quantitative","scale":{"domain":[70,106.2],"range":[38.02,0],"clamp":true,"nice":false,"zero":false},"axis":null},"y2":{"datum":70}}},
  {"encoding":{"x":{"field":"t","type":"quantitative","scale":{"domain":[1980.33,2010.13],"nice":false,"zero":false}},"y":{"field":"v","type":"quantitative","scale":{"domain":[-5.2,106.2],"nice":false,"zero":false},"axis":{"orient":"right","values":[10,30,50,70,90],"grid":true,"title":null,"labelPadding":3}}},
   "layer":[
    {"data":{"values":[{"v":82.1},{"v":63.3},{"v":57.5},{"v":51.7},{"v":32.9},{"v":30}]},"mark":{"type":"rule","color":"#000"},"encoding":{"x":{"datum":1980.33},"x2":{"datum":2010.13}}},
    {"data":{"values":[{"v":70}]},"mark":{"type":"rule","color":"#3232C8"},"encoding":{"x":{"datum":1980.33},"x2":{"datum":2010.13}}},
    {"data":{"values":[{"v":50}]},"mark":{"type":"rule","color":"#3232C8","strokeDash":[6,2,1,2]},"encoding":{"x":{"datum":1980.33},"x2":{"datum":2010.13}}},
    {"data":{"name":"rsi"},"mark":{"type":"line","color":"#5050C8","strokeWidth":1,"clip":true}},
    {"data":{"values":[{"t":1985.36,"v":93},{"t":1984.18,"v":99.5}]},"mark":{"type":"line","color":"#777","strokeWidth":1}},
    {"data":{"values":[{"t":2009.25,"v":75.7},{"t":2009.92,"v":61}]},"mark":{"type":"line","color":"#777","strokeWidth":1}},
    {"data":{"values":[{"t":1985.36,"t2":1988.64,"v":101.4,"v2":87.1},{"t":2006.08,"t2":2009.56,"v":88.4,"v2":75.7}]},"mark":{"type":"rect","color":"#9a9a9a","xOffset":2,"yOffset":2},"encoding":{"x2":{"field":"t2"},"y2":{"field":"v2"}}},
    {"data":{"values":[{"t":1985.36,"t2":1988.64,"v":101.4,"v2":87.1},{"t":2006.08,"t2":2009.56,"v":88.4,"v2":75.7}]},"mark":{"type":"rect","fill":"white","stroke":"#000","strokeWidth":1},"encoding":{"x2":{"field":"t2"},"y2":{"field":"v2"}}},
    {"data":{"values":[{"t":1987.0,"v":94.25,"txt":"< 50 = Bearish"},{"t":2007.82,"v":82.05,"txt":"Fib Resistance"}]},"mark":{"type":"text","fontSize":9.2,"fontWeight":"bold","align":"center"},"encoding":{"text":{"field":"txt"}}},
    {"data":{"values":[{"t":1980.436,"v":100.5,"txt":"▲RSI(13) 46.19"}]},"mark":{"type":"text","fontSize":10},"encoding":{"text":{"field":"txt"}}},
    {"data":{"values":[{"v":82.1,"txt":"0.0%"},{"v":63.3,"txt":"38.2%"},{"v":57.5,"txt":"50.0%"},{"v":51.7,"txt":"61.8%"},{"v":32.9,"txt":"100.0%"}]},"mark":{"type":"text","fontSize":9.5,"color":"#8a8a8a","dx":3,"dy":-6},"encoding":{"x":{"datum":2010.13},"text":{"field":"txt"}}}
   ]}
 ]},
{"width":581,"height":330,
 "encoding":{"x":{"field":"t","type":"quantitative","scale":{"domain":[1980.33,2010.13],"nice":false,"zero":false},"axis":{"values":[1981,1982,1983,1984,1985,1986,1987,1988,1989,1990,1991,1992,1993,1994,1995,1996,1997,1998,1999,2000,2001,2002,2003,2004,2005,2006,2007,2008,2009],"labels":true,"format":"d","labelExpr":"substring(datum.label,2,4)","labelPadding":3,"labelFontSize":10,"grid":true,"gridColor":"#DCD5A5","title":null}},"y":{"field":"v","type":"quantitative","scale":{"domain":[4.3,254.5],"nice":false,"zero":false},"axis":{"orient":"right","values":[20,40,60,80,100,120,140,160,180,200,220,240],"grid":true,"title":null,"labelPadding":3}}},
 "layer":[
  {"data":{"values":[{"v":248.6},{"v":157.2},{"v":128.1},{"v":100.3},{"v":8.1}]},"mark":{"type":"rule","color":"#000"},"encoding":{"x":{"datum":1980.33},"x2":{"datum":2010.13}}},
  {"data":{"values":[{"v":84.7},{"v":71.8},{"v":52.3}]},"mark":{"type":"rule","color":"#000","strokeWidth":2,"strokeDash":[4,3]},"encoding":{"x":{"datum":1980.33},"x2":{"datum":2010.13}}},
  {"data":{"name":"ma"},"mark":{"type":"line","strokeWidth":1.2,"clip":true},"encoding":{"color":{"field":"s","type":"nominal","legend":null,"scale":{"domain":["$INDU:$XAU","MA(20)","MA(40)","MA(100)","MA(200)","EMA(21)","EMA(34)","EMA(55)","EMA(89)","MA(144)","EMA(155)","EMA(233)","Volume"],"range":["#000000","#000080","#FF0000","#006400","#FF00FF","#8A2BE2","#FF5A1E","#A0301E","#E8901E","#9090A8","#000000","#1E1E8C","#3C78C8"]}}}},
  {"data":{"name":"price"},"mark":{"type":"line","color":"#000","strokeWidth":1.5,"clip":true}},
  {"data":{"values":[{"g":1,"t":1985.05,"v":202},{"g":1,"t":1984.0,"v":207.7},{"g":2,"t":1985.14,"v":170.5},{"g":2,"t":1984.1,"v":166.5},{"g":3,"t":2002.91,"v":15.2},{"g":3,"t":2009.35,"v":14}]},"mark":{"type":"line","color":"#777","strokeWidth":1},"encoding":{"detail":{"field":"g"}}},
  {"data":{"values":[{"t":1985.05,"t2":1987.73,"v":206.9,"v2":197.6},{"t":1985.14,"t2":1988.47,"v":175.4,"v2":166.0},{"t":1999.67,"t2":2002.83,"v":83.4,"v2":73.8},{"t":2005.05,"t2":2008.01,"v":54.9,"v2":46.0},{"t":1998.47,"t2":2004.66,"v":47.3,"v2":27.8},{"t":1999.24,"t2":2002.91,"v":20.7,"v2":11.1}]},"mark":{"type":"rect","color":"#9a9a9a","xOffset":2,"yOffset":2},"encoding":{"x2":{"field":"t2"},"y2":{"field":"v2"}}},
  {"data":{"values":[{"t":1985.05,"t2":1987.73,"v":206.9,"v2":197.6},{"t":1985.14,"t2":1988.47,"v":175.4,"v2":166.0},{"t":1999.67,"t2":2002.83,"v":83.4,"v2":73.8},{"t":2005.05,"t2":2008.01,"v":54.9,"v2":46.0},{"t":1998.47,"t2":2004.66,"v":47.3,"v2":27.8},{"t":1999.24,"t2":2002.91,"v":20.7,"v2":11.1}]},"mark":{"type":"rect","fill":"white","stroke":"#000","strokeWidth":1},"encoding":{"x2":{"field":"t2"},"y2":{"field":"v2"}}},
  {"data":{"values":[{"t":1986.39,"v":202.25,"txt":"Swing Line"}]},"mark":{"type":"text","fontSize":9.5,"fontWeight":"bold","align":"center","color":"#702090"},"encoding":{"text":{"field":"txt"}}},
  {"data":{"values":[{"t":1986.8,"v":170.7,"txt":"Trend Definer"},{"t":2001.25,"v":78.6,"txt":"Support Zone"},{"t":2006.53,"v":50.45,"txt":"Key Support"},{"t":2001.57,"v":37.55,"txt":"This should mark a top for\nprecious metals shares."},{"t":2001.08,"v":15.9,"txt":"Ultimate Target"}]},"mark":{"type":"text","fontSize":9.5,"fontWeight":"bold","align":"center","lineBreak":"\n","lineHeight":13},"encoding":{"text":{"field":"txt"}}},
  {"data":{"values":[{"t":1980.436,"v":248.6,"s":"$INDU:$XAU","txt":"— $INDU:$XAU (Monthly) 61.57"},{"t":1980.436,"v":240.5,"s":"MA(20)","txt":"— MA(20) 67.76"},{"t":1980.436,"v":232.3,"s":"MA(40)","txt":"— MA(40) 75.82"},{"t":1980.436,"v":224.1,"s":"MA(100)","txt":"— MA(100) 98.31"},{"t":1980.436,"v":215.9,"s":"MA(200)","txt":"— MA(200) 98.86"},{"t":1980.436,"v":207.7,"s":"EMA(21)","txt":"— EMA(21) 66.93"},{"t":1980.436,"v":199.5,"s":"EMA(34)","txt":"— EMA(34) 72.13"},{"t":1980.436,"v":191.3,"s":"EMA(55)","txt":"— EMA(55) 80.06"},{"t":1980.436,"v":183.1,"s":"EMA(89)","txt":"— EMA(89) 88.76"},{"t":1980.436,"v":174.9,"s":"MA(144)","txt":"— MA(144) 119.41"},{"t":1980.436,"v":166.8,"s":"EMA(155)","txt":"— EMA(155) 91.18"},{"t":1980.436,"v":158.6,"s":"EMA(233)","txt":"— EMA(233) 75.90"},{"t":1980.436,"v":150.4,"s":"Volume","txt":"▮ Volume undef"}]},"mark":{"type":"text","fontSize":10},"encoding":{"text":{"field":"txt"},"color":{"field":"s","type":"nominal","legend":null,"scale":{"domain":["$INDU:$XAU","MA(20)","MA(40)","MA(100)","MA(200)","EMA(21)","EMA(34)","EMA(55)","EMA(89)","MA(144)","EMA(155)","EMA(233)","Volume"],"range":["#000000","#000080","#FF0000","#006400","#FF00FF","#8A2BE2","#FF5A1E","#A0301E","#E8901E","#9090A8","#000000","#1E1E8C","#3C78C8"]}}}},
  {"data":{"values":[{"t":1992.92,"v":61,"txt":"A"},{"t":1993.62,"v":21.2,"txt":"B"},{"t":1999.29,"v":179.4,"txt":"C"},{"t":1999.67,"v":122.3,"txt":"D"},{"t":2000.42,"v":243.6,"txt":"E"}]},"mark":{"type":"text","fontSize":11,"fontWeight":"bold","align":"center","color":"#000"},"encoding":{"text":{"field":"txt"}}},
  {"data":{"values":[{"t":2008.44,"v":54.8,"txt":"a"},{"t":2008.76,"v":123.8,"txt":"b"},{"t":2009.67,"v":15,"txt":"c?"}]},"mark":{"type":"text","fontSize":11,"fontWeight":"bold","align":"center","color":"#E00000"},"encoding":{"text":{"field":"txt"}}},
  {"data":{"values":[{"v":248.6,"txt":"0.0%"},{"v":157.2,"txt":"38.2%"},{"v":128.1,"txt":"50.0%"},{"v":100.3,"txt":"61.8%"},{"v":8.1,"txt":"100.0%"}]},"mark":{"type":"text","fontSize":9.5,"color":"#8a8a8a","dx":3,"dy":-6},"encoding":{"x":{"datum":2010.13},"text":{"field":"txt"}}}
 ]},
{"width":581,"height":15,"view":{"fill":"transparent","stroke":"transparent"},"data":{"values":[{"t":1995,"v":0}]},"mark":{"type":"point","opacity":0},"encoding":{"x":{"field":"t","type":"quantitative","scale":{"domain":[1980.33,2010.13],"nice":false,"zero":false},"axis":null},"y":{"field":"v","type":"quantitative","axis":null}}},
{"width":581,"height":116,
 "encoding":{"x":{"field":"t","type":"quantitative","scale":{"domain":[1980.33,2010.13],"nice":false,"zero":false},"axis":{"values":[1981,1982,1983,1984,1985,1986,1987,1988,1989,1990,1991,1992,1993,1994,1995,1996,1997,1998,1999,2000,2001,2002,2003,2004,2005,2006,2007,2008,2009],"labels":false,"grid":true,"gridColor":"#DCD5A5","title":null}},"y":{"field":"v","type":"quantitative","scale":{"domain":[-40.2,67.4],"nice":false,"zero":false},"axis":{"orient":"right","values":[-20,0,20,40,60],"grid":true,"title":null,"labelPadding":3}}},
 "layer":[
  {"data":{"values":[{"v":60.6},{"v":24.1},{"v":12.4},{"v":1.3},{"v":-36.2}]},"mark":{"type":"rule","color":"#000"},"encoding":{"x":{"datum":1980.33},"x2":{"datum":2010.13}}},
  {"data":{"name":"hist"},"mark":{"type":"rule","color":"#8C8CBE","strokeWidth":2},"encoding":{"y2":{"datum":0}}},
  {"data":{"name":"macdsig"},"mark":{"type":"line","color":"#4B4BC8","strokeWidth":1,"clip":true}},
  {"data":{"name":"macd"},"mark":{"type":"line","color":"#000","strokeWidth":1.5,"clip":true}},
  {"data":{"values":[{"g":1,"t":2003.19,"v":-35},{"g":1,"t":2010.13,"v":-10.5},{"g":2,"t":2005.5,"v":-4.3},{"g":2,"t":2010.13,"v":9.3}]},"mark":{"type":"line","color":"#000","strokeWidth":1.2,"strokeDash":[4,3]},"encoding":{"detail":{"field":"g"}}},
  {"data":{"values":[{"t":2009.8,"v":-40.2},{"t":2009.94,"v":-18}]},"mark":{"type":"line","color":"#999","strokeWidth":1}},
  {"data":{"values":[{"t":2006.05,"t2":2008.26,"v":-3.1,"v2":-14.5}]},"mark":{"type":"rect","color":"#9a9a9a","xOffset":2,"yOffset":2},"encoding":{"x2":{"field":"t2"},"y2":{"field":"v2"}}},
  {"data":{"values":[{"t":2006.05,"t2":2008.26,"v":-3.1,"v2":-14.5}]},"mark":{"type":"rect","fill":"white","stroke":"#000","strokeWidth":1},"encoding":{"x2":{"field":"t2"},"y2":{"field":"v2"}}},
  {"data":{"values":[{"t":2007.155,"v":-8.8,"txt":"Bear Flag"}]},"mark":{"type":"text","fontSize":9.5,"fontWeight":"bold","align":"center"},"encoding":{"text":{"field":"txt"}}},
  {"data":{"values":[{"t":1980.436,"v":59.1,"txt":"— MACD(5,34,5) -11.730,"}]},"mark":{"type":"text","fontSize":10},"encoding":{"text":{"field":"txt"}}},
  {"data":{"values":[{"t":1986.49,"v":59.1,"txt":"-12.531,"}]},"mark":{"type":"text","fontSize":10,"color":"#3232C8"},"encoding":{"text":{"field":"txt"}}},
  {"data":{"values":[{"t":1988.51,"v":59.1,"txt":"0.801"}]},"mark":{"type":"text","fontSize":10,"color":"#8a8a8a"},"encoding":{"text":{"field":"txt"}}},
  {"data":{"values":[{"v":60.6,"txt":"100.0%"},{"v":24.1,"txt":"61.8%"},{"v":12.4,"txt":"50.0%"},{"v":1.3,"txt":"38.2%"},{"v":-36.2,"txt":"0.0%"}]},"mark":{"type":"text","fontSize":9.5,"color":"#8a8a8a","dx":3,"dy":-6},"encoding":{"x":{"datum":2010.13},"text":{"field":"txt"}}}
 ]},
{"width":581,"height":121,
 "encoding":{"x":{"field":"t","type":"quantitative","scale":{"domain":[1980.33,2010.13],"nice":false,"zero":false},"axis":{"values":[1981,1982,1983,1984,1985,1986,1987,1988,1989,1990,1991,1992,1993,1994,1995,1996,1997,1998,1999,2000,2001,2002,2003,2004,2005,2006,2007,2008,2009],"labels":false,"grid":true,"gridColor":"#DCD5A5","title":null}},"y":{"field":"v","type":"quantitative","scale":{"domain":[-68.6,125.9],"nice":false,"zero":false},"axis":{"orient":"right","values":[-50,-25,0,25,50,75,100],"grid":true,"title":null,"labelPadding":3}}},
 "layer":[
  {"data":{"values":[{"v":113.5},{"v":44.5},{"v":23.2},{"v":1.9},{"v":-67.1}]},"mark":{"type":"rule","color":"#000"},"encoding":{"x":{"datum":1980.33},"x2":{"datum":2010.13}}},
  {"data":{"values":[{"v":0}]},"mark":{"type":"rule","color":"#000","strokeDash":[6,2,1,2]},"encoding":{"x":{"datum":1980.33},"x2":{"datum":2010.13}}},
  {"data":{"name":"roc"},"mark":{"type":"line","color":"#000","strokeWidth":1,"clip":true}},
  {"data":{"values":[{"t":2009.12,"v":-68.6},{"t":2009.8,"v":125.9}]},"mark":{"type":"line","color":"#999","strokeWidth":1}},
  {"data":{"values":[{"t":1980.436,"v":112.5,"txt":"— ROC(13) -29.15%"}]},"mark":{"type":"text","fontSize":10},"encoding":{"text":{"field":"txt"}}},
  {"data":{"values":[{"v":113.5,"txt":"0.0%"},{"v":44.5,"txt":"38.2%"},{"v":23.2,"txt":"50.0%"},{"v":1.9,"txt":"61.8%"},{"v":-67.1,"txt":"100.0%"}]},"mark":{"type":"text","fontSize":9.5,"color":"#8a8a8a","dx":3,"dy":-6},"encoding":{"x":{"datum":2010.13},"text":{"field":"txt"}}}
 ]},
{"width":581,"height":115,
 "encoding":{"x":{"field":"t","type":"quantitative","scale":{"domain":[1980.33,2010.13],"nice":false,"zero":false},"axis":{"values":[1981,1982,1983,1984,1985,1986,1987,1988,1989,1990,1991,1992,1993,1994,1995,1996,1997,1998,1999,2000,2001,2002,2003,2004,2005,2006,2007,2008,2009],"labels":false,"grid":true,"gridColor":"#DCD5A5","title":null}},"y":{"field":"v","type":"quantitative","scale":{"domain":[-9.3,103.8],"nice":false,"zero":false},"axis":{"orient":"right","values":[20,50,80],"grid":true,"title":null,"labelPadding":3}}},
 "layer":[
  {"data":{"values":[{"v":98.1},{"v":41.2},{"v":4.3}]},"mark":{"type":"rule","color":"#000","strokeWidth":2,"strokeDash":[3,2]},"encoding":{"x":{"datum":1980.33},"x2":{"datum":2010.13}}},
  {"data":{"values":[{"v":80},{"v":20}]},"mark":{"type":"rule","color":"#1E6E1E"},"encoding":{"x":{"datum":1980.33},"x2":{"datum":2010.13}}},
  {"data":{"values":[{"v":50}]},"mark":{"type":"rule","color":"#1E6E1E","strokeDash":[6,2,1,2]},"encoding":{"x":{"datum":1980.33},"x2":{"datum":2010.13}}},
  {"data":{"name":"d13"},"mark":{"type":"line","color":"#FF2020","strokeWidth":1,"clip":true}},
  {"data":{"name":"k13"},"mark":{"type":"line","color":"#000","strokeWidth":1.2,"clip":true}},
  {"data":{"values":[{"t":2009.0,"v":84.4},{"t":2009.45,"v":103.8}]},"mark":{"type":"line","color":"#999","strokeWidth":1}},
  {"data":{"values":[{"t":2007.03,"t2":2009.08,"v":84.4,"v2":71.3}]},"mark":{"type":"rect","color":"#9a9a9a","xOffset":2,"yOffset":2},"encoding":{"x2":{"field":"t2"},"y2":{"field":"v2"}}},
  {"data":{"values":[{"t":2007.03,"t2":2009.08,"v":84.4,"v2":71.3}]},"mark":{"type":"rect","fill":"white","stroke":"#000","strokeWidth":1},"encoding":{"x2":{"field":"t2"},"y2":{"field":"v2"}}},
  {"data":{"values":[{"t":2008.055,"v":77.85,"txt":"Support"}]},"mark":{"type":"text","fontSize":10,"fontWeight":"bold","align":"center"},"encoding":{"text":{"field":"txt"}}},
  {"data":{"values":[{"t":1980.436,"v":99.5,"txt":"— Full STO %K(13,3) %D(3) 29.04,"}]},"mark":{"type":"text","fontSize":10},"encoding":{"text":{"field":"txt"}}},
  {"data":{"values":[{"t":1988.69,"v":99.5,"txt":"20.07"}]},"mark":{"type":"text","fontSize":10,"color":"#FF0000"},"encoding":{"text":{"field":"txt"}}}
 ]},
{"width":581,"height":115,
 "encoding":{"x":{"field":"t","type":"quantitative","scale":{"domain":[1980.33,2010.13],"nice":false,"zero":false},"axis":{"values":[1981,1982,1983,1984,1985,1986,1987,1988,1989,1990,1991,1992,1993,1994,1995,1996,1997,1998,1999,2000,2001,2002,2003,2004,2005,2006,2007,2008,2009],"labels":false,"grid":true,"gridColor":"#DCD5A5","title":null}},"y":{"field":"v","type":"quantitative","scale":{"domain":[-9.4,104.5],"nice":false,"zero":false},"axis":{"orient":"right","values":[20,50,80],"grid":true,"title":null,"labelPadding":3}}},
 "layer":[
  {"data":{"values":[{"v":96.5},{"v":8.8}]},"mark":{"type":"rule","color":"#000","strokeWidth":2,"strokeDash":[3,2]},"encoding":{"x":{"datum":1980.33},"x2":{"datum":2010.13}}},
  {"data":{"values":[{"v":80},{"v":20}]},"mark":{"type":"rule","color":"#1E6E1E"},"encoding":{"x":{"datum":1980.33},"x2":{"datum":2010.13}}},
  {"data":{"values":[{"v":50}]},"mark":{"type":"rule","color":"#1E6E1E","strokeDash":[6,2,1,2]},"encoding":{"x":{"datum":1980.33},"x2":{"datum":2010.13}}},
  {"data":{"name":"d21"},"mark":{"type":"line","color":"#FF2020","strokeWidth":1,"clip":true}},
  {"data":{"name":"k21"},"mark":{"type":"line","color":"#000","strokeWidth":1.2,"clip":true}},
  {"data":{"values":[{"t":1980.436,"v":99.8,"txt":"— Full STO %K(21,8) %D(13) 13.62,"}]},"mark":{"type":"text","fontSize":10},"encoding":{"text":{"field":"txt"}}},
  {"data":{"values":[{"t":1988.95,"v":99.8,"txt":"21.49"}]},"mark":{"type":"text","fontSize":10,"color":"#FF0000"},"encoding":{"text":{"field":"txt"}}}
 ]},
{"width":581,"height":115,
 "encoding":{"x":{"field":"t","type":"quantitative","scale":{"domain":[1980.33,2010.13],"nice":false,"zero":false},"axis":{"values":[1981,1982,1983,1984,1985,1986,1987,1988,1989,1990,1991,1992,1993,1994,1995,1996,1997,1998,1999,2000,2001,2002,2003,2004,2005,2006,2007,2008,2009],"labels":false,"grid":true,"gridColor":"#DCD5A5","title":null}},"y":{"field":"v","type":"quantitative","scale":{"domain":[-7.8,105.3],"nice":false,"zero":false},"axis":{"orient":"right","values":[20,50,80],"grid":true,"title":null,"labelPadding":3}}},
 "layer":[
  {"data":{"values":[{"v":96},{"v":7.2}]},"mark":{"type":"rule","color":"#000","strokeWidth":2,"strokeDash":[3,2]},"encoding":{"x":{"datum":1980.33},"x2":{"datum":2010.13}}},
  {"data":{"values":[{"v":80},{"v":20}]},"mark":{"type":"rule","color":"#1E6E1E"},"encoding":{"x":{"datum":1980.33},"x2":{"datum":2010.13}}},
  {"data":{"values":[{"v":50}]},"mark":{"type":"rule","color":"#1E6E1E","strokeDash":[6,2,1,2]},"encoding":{"x":{"datum":1980.33},"x2":{"datum":2010.13}}},
  {"data":{"name":"d34"},"mark":{"type":"line","color":"#FF2020","strokeWidth":1,"clip":true}},
  {"data":{"name":"k34"},"mark":{"type":"line","color":"#000","strokeWidth":1.2,"clip":true}},
  {"data":{"values":[{"t":1980.436,"v":100,"txt":"— Full STO %K(34,13) %D(21) 13.06,"}]},"mark":{"type":"text","fontSize":10},"encoding":{"text":{"field":"txt"}}},
  {"data":{"values":[{"t":1989.23,"v":100,"txt":"22.47"}]},"mark":{"type":"text","fontSize":10,"color":"#FF0000"},"encoding":{"text":{"field":"txt"}}}
 ]},
{"width":581,"height":115,
 "encoding":{"x":{"field":"t","type":"quantitative","scale":{"domain":[1980.33,2010.13],"nice":false,"zero":false},"axis":{"values":[1981,1982,1983,1984,1985,1986,1987,1988,1989,1990,1991,1992,1993,1994,1995,1996,1997,1998,1999,2000,2001,2002,2003,2004,2005,2006,2007,2008,2009],"labels":false,"grid":true,"gridColor":"#DCD5A5","title":null}},"y":{"field":"v","type":"quantitative","scale":{"domain":[-2.7,146.7],"nice":false,"zero":false},"axis":{"orient":"right","values":[25,50,75,100,125],"grid":true,"title":null,"labelPadding":3}}},
 "layer":[
  {"data":{"values":[{"v":138.9},{"v":88.6},{"v":73},{"v":57.4},{"v":30.5},{"v":7.1}]},"mark":{"type":"rule","color":"#000"},"encoding":{"x":{"datum":1980.33},"x2":{"datum":2010.13}}},
  {"data":{"name":"bb"},"mark":{"type":"line","color":"#000","strokeWidth":1.5,"clip":true}},
  {"data":{"values":[{"t":2009.45,"v":82.7},{"t":2009.95,"v":59}]},"mark":{"type":"line","color":"#999","strokeWidth":1}},
  {"data":{"values":[{"t":2006.09,"t2":2009.63,"v":97.7,"v2":82.7}]},"mark":{"type":"rect","color":"#9a9a9a","xOffset":2,"yOffset":2},"encoding":{"x2":{"field":"t2"},"y2":{"field":"v2"}}},
  {"data":{"values":[{"t":2006.09,"t2":2009.63,"v":97.7,"v2":82.7}]},"mark":{"type":"rect","fill":"white","stroke":"#000","strokeWidth":1},"encoding":{"x2":{"field":"t2"},"y2":{"field":"v2"}}},
  {"data":{"values":[{"t":2007.86,"v":90.2,"txt":"Fib Resistance"}]},"mark":{"type":"text","fontSize":9.5,"fontWeight":"bold","align":"center"},"encoding":{"text":{"field":"txt"}}},
  {"data":{"values":[{"t":1980.436,"v":138,"txt":"— BB(21,2.1) Width 57.048"}]},"mark":{"type":"text","fontSize":10},"encoding":{"text":{"field":"txt"}}},
  {"data":{"values":[{"v":138.9,"txt":"0.0%"},{"v":88.6,"txt":"38.2%"},{"v":73,"txt":"50.0%"},{"v":57.4,"txt":"61.8%"},{"v":7.1,"txt":"100.0%"}]},"mark":{"type":"text","fontSize":9.5,"color":"#8a8a8a","dx":3,"dy":-6},"encoding":{"x":{"datum":2010.13},"text":{"field":"txt"}}}
 ]},
{"width":581,"height":115,
 "encoding":{"x":{"field":"t","type":"quantitative","scale":{"domain":[1980.33,2010.13],"nice":false,"zero":false},"axis":{"values":[1981,1982,1983,1984,1985,1986,1987,1988,1989,1990,1991,1992,1993,1994,1995,1996,1997,1998,1999,2000,2001,2002,2003,2004,2005,2006,2007,2008,2009],"labels":false,"grid":true,"gridColor":"#DCD5A5","title":null}},"y":{"field":"v","type":"quantitative","scale":{"domain":[5.7,64.8],"nice":false,"zero":false},"axis":{"orient":"right","values":[10,20,30,40,50,60],"grid":true,"title":null,"labelPadding":3}}},
 "layer":[
  {"data":{"values":[{"v":49.5},{"v":34.0},{"v":29.25},{"v":24.5},{"v":9.0}]},"mark":{"type":"rule","color":"#000"},"encoding":{"x":{"datum":1980.33},"x2":{"datum":2010.13}}},
  {"data":{"name":"pdi"},"mark":{"type":"line","color":"#1E781E","strokeWidth":1,"clip":true}},
  {"data":{"name":"mdi"},"mark":{"type":"line","color":"#FF2020","strokeWidth":1,"clip":true}},
  {"data":{"name":"adx"},"mark":{"type":"line","color":"#000","strokeWidth":1.6,"clip":true}},
  {"data":{"values":[{"t":1980.436,"v":60.8,"txt":"— ADX(13) 8.07"}]},"mark":{"type":"text","fontSize":10},"encoding":{"text":{"field":"txt"}}},
  {"data":{"values":[{"t":1984.45,"v":60.8,"txt":"+DI 34.51"}]},"mark":{"type":"text","fontSize":10,"color":"#1E781E"},"encoding":{"text":{"field":"txt"}}},
  {"data":{"values":[{"t":1986.85,"v":60.8,"txt":"-DI 35.32"}]},"mark":{"type":"text","fontSize":10,"color":"#FF0000"},"encoding":{"text":{"field":"txt"}}},
  {"data":{"values":[{"v":49.5,"txt":"0.0%"},{"v":34.0,"txt":"38.2%"},{"v":29.25,"txt":"50.0%"},{"v":24.5,"txt":"61.8%"},{"v":9.0,"txt":"100.0%"}]},"mark":{"type":"text","fontSize":9.5,"color":"#8a8a8a","dx":3,"dy":-6},"encoding":{"x":{"datum":2010.13},"text":{"field":"txt"}}}
 ]},
{"width":581,"height":116,"resolve":{"scale":{"y":"independent"}},
 "layer":[
  {"data":{"name":"srsi"},"mark":{"type":"area","color":"#8E8ED6"},"encoding":{"x":{"field":"t","type":"quantitative","scale":{"domain":[1980.33,2010.13],"nice":false,"zero":false},"axis":{"values":[1981,1982,1983,1984,1985,1986,1987,1988,1989,1990,1991,1992,1993,1994,1995,1996,1997,1998,1999,2000,2001,2002,2003,2004,2005,2006,2007,2008,2009],"labels":false,"grid":true,"gridColor":"#DCD5A5","title":null}},"y":{"field":"v","type":"quantitative","scale":{"domain":[0.8,1.085],"range":[29.08,0],"clamp":true,"nice":false,"zero":false},"axis":null},"y2":{"datum":0.8}}},
  {"data":{"name":"srsi"},"mark":{"type":"area","color":"#8E8ED6"},"encoding":{"x":{"field":"t","type":"quantitative","scale":{"domain":[1980.33,2010.13],"nice":false,"zero":false}},"y":{"field":"v","type":"quantitative","scale":{"domain":[-0.052,0.2],"range":[116,90.29],"clamp":true,"nice":false,"zero":false},"axis":null},"y2":{"datum":0.2}}},
  {"encoding":{"x":{"field":"t","type":"quantitative","scale":{"domain":[1980.33,2010.13],"nice":false,"zero":false}},"y":{"field":"v","type":"quantitative","scale":{"domain":[-0.052,1.085],"nice":false,"zero":false},"axis":{"orient":"right","values":[0,0.2,0.5,0.8,1],"format":".1f","grid":true,"title":null,"labelPadding":3}}},
   "layer":[
    {"data":{"values":[{"v":0.8},{"v":0.2}]},"mark":{"type":"rule","color":"#800080"},"encoding":{"x":{"datum":1980.33},"x2":{"datum":2010.13}}},
    {"data":{"values":[{"v":0.5}]},"mark":{"type":"rule","color":"#800080","strokeDash":[6,2,1,2]},"encoding":{"x":{"datum":1980.33},"x2":{"datum":2010.13}}},
    {"data":{"name":"srsi"},"mark":{"type":"line","color":"#7B3FA0","strokeWidth":1,"clip":true}},
    {"data":{"values":[{"t":1980.436,"v":1.0,"txt":"▲ StochRSI(13) 0.951"}]},"mark":{"type":"text","fontSize":10},"encoding":{"text":{"field":"txt"}}}
   ]}
 ]},
{"width":581,"height":115,
 "encoding":{"x":{"field":"t","type":"quantitative","scale":{"domain":[1980.33,2010.13],"nice":false,"zero":false},"axis":{"values":[1981,1982,1983,1984,1985,1986,1987,1988,1989,1990,1991,1992,1993,1994,1995,1996,1997,1998,1999,2000,2001,2002,2003,2004,2005,2006,2007,2008,2009],"labels":true,"format":"d","labelExpr":"substring(datum.label,2,4)","labelPadding":3,"labelFontSize":10,"grid":true,"gridColor":"#DCD5A5","title":null}},"y":{"field":"v","type":"quantitative","scale":{"domain":[-5.4,107.4],"nice":false,"zero":false},"axis":{"orient":"right","values":[10,30,50,70,90],"grid":true,"title":null,"labelPadding":3}}},
 "layer":[
  {"data":{"values":[{"v":70},{"v":30}]},"mark":{"type":"rule","color":"#1E6E1E"},"encoding":{"x":{"datum":1980.33},"x2":{"datum":2010.13}}},
  {"data":{"values":[{"v":50}]},"mark":{"type":"rule","color":"#1E6E1E","strokeDash":[6,2,1,2]},"encoding":{"x":{"datum":1980.33},"x2":{"datum":2010.13}}},
  {"data":{"name":"adn"},"mark":{"type":"line","color":"#B01030","strokeWidth":1.2,"clip":true}},
  {"data":{"name":"aup"},"mark":{"type":"line","color":"#1E6E1E","strokeWidth":1.2,"clip":true}},
  {"data":{"values":[{"t":1980.436,"v":98.8,"txt":"— AROON(21) Up 33.3"}]},"mark":{"type":"text","fontSize":10,"color":"#1E4E1E"},"encoding":{"text":{"field":"txt"}}},
  {"data":{"values":[{"t":1986.05,"v":98.8,"txt":"Down 57.1"}]},"mark":{"type":"text","fontSize":10,"color":"#C00000"},"encoding":{"text":{"field":"txt"}}}
 ]}
]
}
